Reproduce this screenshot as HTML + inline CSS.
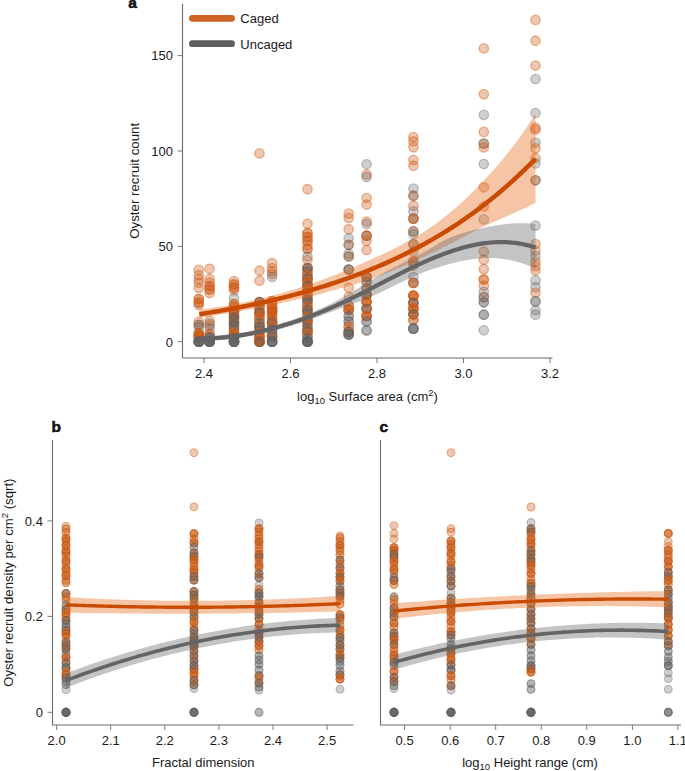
<!DOCTYPE html>
<html><head><meta charset="utf-8"><style>
html,body{margin:0;padding:0;background:#fff;}
body{width:685px;height:771px;overflow:hidden;font-family:"Liberation Sans",sans-serif;}
svg{display:block;} .p0{fill:rgba(205,92,22,0.340);stroke:rgba(205,92,22,0.442);stroke-width:1.3}.p1{fill:rgba(99,99,99,0.300);stroke:rgba(99,99,99,0.390);stroke-width:1.3}.p2{fill:rgba(205,92,22,0.340);stroke:rgba(205,92,22,0.442);stroke-width:1.1}.p3{fill:rgba(205,92,22,0.270);stroke:rgba(205,92,22,0.351);stroke-width:1.1}.p4{fill:rgba(99,99,99,0.270);stroke:rgba(99,99,99,0.351);stroke-width:1.1}.p5{fill:rgba(99,99,99,0.300);stroke:rgba(99,99,99,0.390);stroke-width:1.1} text{font-family:"Liberation Sans",sans-serif;fill:#1a1a1a;}
</style></head><body>
<svg width="685" height="771" viewBox="0 0 685 771">
<rect width="685" height="771" fill="#fff"/>
<circle class="p0" cx="198.8" cy="269.9" r="4.7"/>
<circle class="p0" cx="198.8" cy="275.2" r="4.7"/>
<circle class="p0" cx="198.8" cy="279.3" r="4.7"/>
<circle class="p0" cx="198.8" cy="282.8" r="4.7"/>
<circle class="p0" cx="198.8" cy="288.0" r="4.7"/>
<circle class="p0" cx="198.8" cy="299.0" r="4.7"/>
<circle class="p0" cx="198.8" cy="299.0" r="4.7"/>
<circle class="p0" cx="198.8" cy="302.6" r="4.7"/>
<circle class="p0" cx="198.8" cy="302.6" r="4.7"/>
<circle class="p0" cx="198.8" cy="305.0" r="4.7"/>
<circle class="p0" cx="198.8" cy="321.9" r="4.7"/>
<circle class="p0" cx="198.8" cy="324.8" r="4.7"/>
<circle class="p1" cx="198.8" cy="324.8" r="4.7"/>
<circle class="p1" cx="198.8" cy="327.2" r="4.7"/>
<circle class="p0" cx="198.8" cy="333.0" r="4.7"/>
<circle class="p0" cx="198.8" cy="333.0" r="4.7"/>
<circle class="p0" cx="198.8" cy="335.5" r="4.7"/>
<circle class="p0" cx="198.8" cy="335.5" r="4.7"/>
<circle class="p0" cx="198.8" cy="335.5" r="4.7"/>
<circle class="p0" cx="198.8" cy="335.5" r="4.7"/>
<circle class="p0" cx="198.8" cy="337.7" r="4.7"/>
<circle class="p0" cx="198.8" cy="337.7" r="4.7"/>
<circle class="p1" cx="198.8" cy="341.7" r="4.7"/>
<circle class="p1" cx="198.8" cy="341.7" r="4.7"/>
<circle class="p1" cx="198.8" cy="341.7" r="4.7"/>
<circle class="p1" cx="198.8" cy="341.7" r="4.7"/>
<circle class="p1" cx="198.8" cy="341.7" r="4.7"/>
<circle class="p1" cx="198.8" cy="341.7" r="4.7"/>
<circle class="p1" cx="198.8" cy="341.7" r="4.7"/>
<circle class="p1" cx="198.8" cy="341.7" r="4.7"/>
<circle class="p0" cx="209.6" cy="268.8" r="4.7"/>
<circle class="p0" cx="209.6" cy="279.0" r="4.7"/>
<circle class="p0" cx="209.6" cy="282.5" r="4.7"/>
<circle class="p0" cx="209.6" cy="286.0" r="4.7"/>
<circle class="p0" cx="209.6" cy="286.0" r="4.7"/>
<circle class="p0" cx="209.6" cy="289.5" r="4.7"/>
<circle class="p0" cx="209.6" cy="289.5" r="4.7"/>
<circle class="p0" cx="209.6" cy="293.0" r="4.7"/>
<circle class="p0" cx="209.6" cy="320.8" r="4.7"/>
<circle class="p1" cx="209.6" cy="323.7" r="4.7"/>
<circle class="p0" cx="209.6" cy="325.4" r="4.7"/>
<circle class="p1" cx="209.6" cy="328.4" r="4.7"/>
<circle class="p0" cx="209.6" cy="334.2" r="4.7"/>
<circle class="p0" cx="209.6" cy="334.2" r="4.7"/>
<circle class="p1" cx="209.6" cy="337.7" r="4.7"/>
<circle class="p1" cx="209.6" cy="337.7" r="4.7"/>
<circle class="p1" cx="209.6" cy="337.7" r="4.7"/>
<circle class="p1" cx="209.6" cy="337.7" r="4.7"/>
<circle class="p1" cx="209.6" cy="341.7" r="4.7"/>
<circle class="p1" cx="209.6" cy="341.7" r="4.7"/>
<circle class="p1" cx="209.6" cy="341.7" r="4.7"/>
<circle class="p1" cx="209.6" cy="341.7" r="4.7"/>
<circle class="p1" cx="209.6" cy="341.7" r="4.7"/>
<circle class="p1" cx="209.6" cy="341.7" r="4.7"/>
<circle class="p1" cx="209.6" cy="341.7" r="4.7"/>
<circle class="p1" cx="209.6" cy="341.7" r="4.7"/>
<circle class="p0" cx="234.0" cy="281.1" r="4.7"/>
<circle class="p0" cx="234.0" cy="284.4" r="4.7"/>
<circle class="p0" cx="234.0" cy="284.4" r="4.7"/>
<circle class="p0" cx="234.0" cy="287.6" r="4.7"/>
<circle class="p0" cx="234.0" cy="287.6" r="4.7"/>
<circle class="p0" cx="234.0" cy="290.2" r="4.7"/>
<circle class="p1" cx="234.0" cy="298.0" r="4.7"/>
<circle class="p0" cx="234.0" cy="304.0" r="4.7"/>
<circle class="p0" cx="234.0" cy="304.0" r="4.7"/>
<circle class="p0" cx="234.0" cy="307.0" r="4.7"/>
<circle class="p0" cx="234.0" cy="307.0" r="4.7"/>
<circle class="p0" cx="234.0" cy="311.0" r="4.7"/>
<circle class="p1" cx="234.0" cy="311.0" r="4.7"/>
<circle class="p0" cx="234.0" cy="311.0" r="4.7"/>
<circle class="p1" cx="234.0" cy="311.0" r="4.7"/>
<circle class="p0" cx="234.0" cy="314.0" r="4.7"/>
<circle class="p0" cx="234.0" cy="314.0" r="4.7"/>
<circle class="p0" cx="234.0" cy="317.0" r="4.7"/>
<circle class="p1" cx="234.0" cy="317.0" r="4.7"/>
<circle class="p0" cx="234.0" cy="317.0" r="4.7"/>
<circle class="p1" cx="234.0" cy="317.0" r="4.7"/>
<circle class="p1" cx="234.0" cy="320.0" r="4.7"/>
<circle class="p1" cx="234.0" cy="320.0" r="4.7"/>
<circle class="p0" cx="234.0" cy="323.0" r="4.7"/>
<circle class="p1" cx="234.0" cy="323.0" r="4.7"/>
<circle class="p0" cx="234.0" cy="323.0" r="4.7"/>
<circle class="p1" cx="234.0" cy="323.0" r="4.7"/>
<circle class="p1" cx="234.0" cy="326.0" r="4.7"/>
<circle class="p1" cx="234.0" cy="326.0" r="4.7"/>
<circle class="p1" cx="234.0" cy="329.0" r="4.7"/>
<circle class="p1" cx="234.0" cy="329.0" r="4.7"/>
<circle class="p0" cx="234.0" cy="332.0" r="4.7"/>
<circle class="p0" cx="234.0" cy="332.0" r="4.7"/>
<circle class="p0" cx="234.0" cy="335.0" r="4.7"/>
<circle class="p0" cx="234.0" cy="335.0" r="4.7"/>
<circle class="p0" cx="234.0" cy="335.0" r="4.7"/>
<circle class="p0" cx="234.0" cy="335.0" r="4.7"/>
<circle class="p0" cx="234.0" cy="338.0" r="4.7"/>
<circle class="p1" cx="234.0" cy="338.0" r="4.7"/>
<circle class="p0" cx="234.0" cy="338.0" r="4.7"/>
<circle class="p1" cx="234.0" cy="338.0" r="4.7"/>
<circle class="p1" cx="234.0" cy="341.7" r="4.7"/>
<circle class="p1" cx="234.0" cy="341.7" r="4.7"/>
<circle class="p1" cx="234.0" cy="341.7" r="4.7"/>
<circle class="p1" cx="234.0" cy="341.7" r="4.7"/>
<circle class="p1" cx="234.0" cy="341.7" r="4.7"/>
<circle class="p1" cx="234.0" cy="341.7" r="4.7"/>
<circle class="p1" cx="234.0" cy="341.7" r="4.7"/>
<circle class="p1" cx="234.0" cy="341.7" r="4.7"/>
<circle class="p0" cx="259.5" cy="153.4" r="4.7"/>
<circle class="p0" cx="259.5" cy="270.7" r="4.7"/>
<circle class="p0" cx="259.5" cy="280.7" r="4.7"/>
<circle class="p0" cx="259.5" cy="302.0" r="4.7"/>
<circle class="p1" cx="259.5" cy="302.0" r="4.7"/>
<circle class="p0" cx="259.5" cy="302.0" r="4.7"/>
<circle class="p1" cx="259.5" cy="302.0" r="4.7"/>
<circle class="p1" cx="259.5" cy="305.5" r="4.7"/>
<circle class="p1" cx="259.5" cy="305.5" r="4.7"/>
<circle class="p0" cx="259.5" cy="309.0" r="4.7"/>
<circle class="p0" cx="259.5" cy="309.0" r="4.7"/>
<circle class="p0" cx="259.5" cy="312.5" r="4.7"/>
<circle class="p1" cx="259.5" cy="312.5" r="4.7"/>
<circle class="p0" cx="259.5" cy="312.5" r="4.7"/>
<circle class="p1" cx="259.5" cy="312.5" r="4.7"/>
<circle class="p0" cx="259.5" cy="316.0" r="4.7"/>
<circle class="p0" cx="259.5" cy="316.0" r="4.7"/>
<circle class="p0" cx="259.5" cy="319.5" r="4.7"/>
<circle class="p0" cx="259.5" cy="319.5" r="4.7"/>
<circle class="p1" cx="259.5" cy="323.0" r="4.7"/>
<circle class="p1" cx="259.5" cy="323.0" r="4.7"/>
<circle class="p0" cx="259.5" cy="326.5" r="4.7"/>
<circle class="p1" cx="259.5" cy="326.5" r="4.7"/>
<circle class="p0" cx="259.5" cy="326.5" r="4.7"/>
<circle class="p1" cx="259.5" cy="326.5" r="4.7"/>
<circle class="p1" cx="259.5" cy="330.0" r="4.7"/>
<circle class="p1" cx="259.5" cy="330.0" r="4.7"/>
<circle class="p0" cx="259.5" cy="333.5" r="4.7"/>
<circle class="p0" cx="259.5" cy="333.5" r="4.7"/>
<circle class="p0" cx="259.5" cy="337.0" r="4.7"/>
<circle class="p0" cx="259.5" cy="337.0" r="4.7"/>
<circle class="p0" cx="259.5" cy="337.0" r="4.7"/>
<circle class="p0" cx="259.5" cy="337.0" r="4.7"/>
<circle class="p0" cx="259.5" cy="341.7" r="4.7"/>
<circle class="p0" cx="259.5" cy="341.7" r="4.7"/>
<circle class="p0" cx="259.5" cy="341.7" r="4.7"/>
<circle class="p0" cx="259.5" cy="341.7" r="4.7"/>
<circle class="p0" cx="259.5" cy="341.7" r="4.7"/>
<circle class="p1" cx="259.5" cy="341.7" r="4.7"/>
<circle class="p0" cx="259.5" cy="341.7" r="4.7"/>
<circle class="p1" cx="259.5" cy="341.7" r="4.7"/>
<circle class="p0" cx="272.1" cy="263.0" r="4.7"/>
<circle class="p0" cx="272.1" cy="268.1" r="4.7"/>
<circle class="p0" cx="272.1" cy="271.4" r="4.7"/>
<circle class="p0" cx="272.1" cy="274.0" r="4.7"/>
<circle class="p1" cx="272.1" cy="277.0" r="4.7"/>
<circle class="p0" cx="272.1" cy="301.0" r="4.7"/>
<circle class="p0" cx="272.1" cy="301.0" r="4.7"/>
<circle class="p0" cx="272.1" cy="304.5" r="4.7"/>
<circle class="p0" cx="272.1" cy="304.5" r="4.7"/>
<circle class="p0" cx="272.1" cy="308.5" r="4.7"/>
<circle class="p0" cx="272.1" cy="308.5" r="4.7"/>
<circle class="p0" cx="272.1" cy="308.5" r="4.7"/>
<circle class="p0" cx="272.1" cy="308.5" r="4.7"/>
<circle class="p0" cx="272.1" cy="312.0" r="4.7"/>
<circle class="p0" cx="272.1" cy="312.0" r="4.7"/>
<circle class="p0" cx="272.1" cy="312.0" r="4.7"/>
<circle class="p0" cx="272.1" cy="312.0" r="4.7"/>
<circle class="p0" cx="272.1" cy="315.5" r="4.7"/>
<circle class="p0" cx="272.1" cy="315.5" r="4.7"/>
<circle class="p0" cx="272.1" cy="319.0" r="4.7"/>
<circle class="p0" cx="272.1" cy="319.0" r="4.7"/>
<circle class="p0" cx="272.1" cy="322.5" r="4.7"/>
<circle class="p1" cx="272.1" cy="322.5" r="4.7"/>
<circle class="p0" cx="272.1" cy="322.5" r="4.7"/>
<circle class="p1" cx="272.1" cy="322.5" r="4.7"/>
<circle class="p0" cx="272.1" cy="326.0" r="4.7"/>
<circle class="p0" cx="272.1" cy="326.0" r="4.7"/>
<circle class="p1" cx="272.1" cy="329.5" r="4.7"/>
<circle class="p1" cx="272.1" cy="329.5" r="4.7"/>
<circle class="p1" cx="272.1" cy="333.0" r="4.7"/>
<circle class="p1" cx="272.1" cy="333.0" r="4.7"/>
<circle class="p0" cx="272.1" cy="336.5" r="4.7"/>
<circle class="p1" cx="272.1" cy="336.5" r="4.7"/>
<circle class="p0" cx="272.1" cy="336.5" r="4.7"/>
<circle class="p1" cx="272.1" cy="336.5" r="4.7"/>
<circle class="p1" cx="272.1" cy="341.7" r="4.7"/>
<circle class="p1" cx="272.1" cy="341.7" r="4.7"/>
<circle class="p1" cx="272.1" cy="341.7" r="4.7"/>
<circle class="p1" cx="272.1" cy="341.7" r="4.7"/>
<circle class="p1" cx="272.1" cy="341.7" r="4.7"/>
<circle class="p1" cx="272.1" cy="341.7" r="4.7"/>
<circle class="p0" cx="307.5" cy="189.2" r="4.7"/>
<circle class="p0" cx="307.5" cy="223.8" r="4.7"/>
<circle class="p0" cx="307.5" cy="233.0" r="4.7"/>
<circle class="p0" cx="307.5" cy="233.0" r="4.7"/>
<circle class="p0" cx="307.5" cy="237.0" r="4.7"/>
<circle class="p0" cx="307.5" cy="237.0" r="4.7"/>
<circle class="p0" cx="307.5" cy="241.0" r="4.7"/>
<circle class="p0" cx="307.5" cy="241.0" r="4.7"/>
<circle class="p0" cx="307.5" cy="245.0" r="4.7"/>
<circle class="p0" cx="307.5" cy="249.0" r="4.7"/>
<circle class="p0" cx="307.5" cy="249.0" r="4.7"/>
<circle class="p1" cx="307.5" cy="256.5" r="4.7"/>
<circle class="p0" cx="307.5" cy="260.0" r="4.7"/>
<circle class="p0" cx="307.5" cy="268.0" r="4.7"/>
<circle class="p1" cx="307.5" cy="268.0" r="4.7"/>
<circle class="p0" cx="307.5" cy="268.0" r="4.7"/>
<circle class="p1" cx="307.5" cy="268.0" r="4.7"/>
<circle class="p1" cx="307.5" cy="271.5" r="4.7"/>
<circle class="p1" cx="307.5" cy="271.5" r="4.7"/>
<circle class="p0" cx="307.5" cy="275.0" r="4.7"/>
<circle class="p0" cx="307.5" cy="275.0" r="4.7"/>
<circle class="p0" cx="307.5" cy="278.5" r="4.7"/>
<circle class="p1" cx="307.5" cy="278.5" r="4.7"/>
<circle class="p0" cx="307.5" cy="278.5" r="4.7"/>
<circle class="p1" cx="307.5" cy="278.5" r="4.7"/>
<circle class="p0" cx="307.5" cy="282.0" r="4.7"/>
<circle class="p0" cx="307.5" cy="282.0" r="4.7"/>
<circle class="p0" cx="307.5" cy="285.5" r="4.7"/>
<circle class="p1" cx="307.5" cy="285.5" r="4.7"/>
<circle class="p0" cx="307.5" cy="285.5" r="4.7"/>
<circle class="p1" cx="307.5" cy="285.5" r="4.7"/>
<circle class="p0" cx="307.5" cy="289.0" r="4.7"/>
<circle class="p0" cx="307.5" cy="289.0" r="4.7"/>
<circle class="p1" cx="307.5" cy="292.5" r="4.7"/>
<circle class="p1" cx="307.5" cy="292.5" r="4.7"/>
<circle class="p0" cx="307.5" cy="296.0" r="4.7"/>
<circle class="p0" cx="307.5" cy="296.0" r="4.7"/>
<circle class="p0" cx="307.5" cy="299.5" r="4.7"/>
<circle class="p1" cx="307.5" cy="299.5" r="4.7"/>
<circle class="p0" cx="307.5" cy="299.5" r="4.7"/>
<circle class="p1" cx="307.5" cy="299.5" r="4.7"/>
<circle class="p1" cx="307.5" cy="303.0" r="4.7"/>
<circle class="p1" cx="307.5" cy="303.0" r="4.7"/>
<circle class="p0" cx="307.5" cy="306.5" r="4.7"/>
<circle class="p0" cx="307.5" cy="306.5" r="4.7"/>
<circle class="p0" cx="307.5" cy="310.0" r="4.7"/>
<circle class="p1" cx="307.5" cy="310.0" r="4.7"/>
<circle class="p0" cx="307.5" cy="310.0" r="4.7"/>
<circle class="p1" cx="307.5" cy="310.0" r="4.7"/>
<circle class="p1" cx="307.5" cy="313.5" r="4.7"/>
<circle class="p1" cx="307.5" cy="313.5" r="4.7"/>
<circle class="p0" cx="307.5" cy="317.0" r="4.7"/>
<circle class="p0" cx="307.5" cy="317.0" r="4.7"/>
<circle class="p0" cx="307.5" cy="320.5" r="4.7"/>
<circle class="p1" cx="307.5" cy="320.5" r="4.7"/>
<circle class="p0" cx="307.5" cy="320.5" r="4.7"/>
<circle class="p1" cx="307.5" cy="320.5" r="4.7"/>
<circle class="p0" cx="307.5" cy="324.0" r="4.7"/>
<circle class="p0" cx="307.5" cy="324.0" r="4.7"/>
<circle class="p1" cx="307.5" cy="327.5" r="4.7"/>
<circle class="p1" cx="307.5" cy="327.5" r="4.7"/>
<circle class="p0" cx="307.5" cy="331.0" r="4.7"/>
<circle class="p1" cx="307.5" cy="331.0" r="4.7"/>
<circle class="p0" cx="307.5" cy="331.0" r="4.7"/>
<circle class="p1" cx="307.5" cy="331.0" r="4.7"/>
<circle class="p0" cx="307.5" cy="334.5" r="4.7"/>
<circle class="p0" cx="307.5" cy="334.5" r="4.7"/>
<circle class="p1" cx="307.5" cy="338.0" r="4.7"/>
<circle class="p1" cx="307.5" cy="338.0" r="4.7"/>
<circle class="p1" cx="307.5" cy="341.7" r="4.7"/>
<circle class="p1" cx="307.5" cy="341.7" r="4.7"/>
<circle class="p1" cx="307.5" cy="341.7" r="4.7"/>
<circle class="p1" cx="307.5" cy="341.7" r="4.7"/>
<circle class="p1" cx="307.5" cy="341.7" r="4.7"/>
<circle class="p1" cx="307.5" cy="341.7" r="4.7"/>
<circle class="p1" cx="307.5" cy="341.7" r="4.7"/>
<circle class="p1" cx="307.5" cy="341.7" r="4.7"/>
<circle class="p0" cx="348.7" cy="213.6" r="4.7"/>
<circle class="p0" cx="348.7" cy="218.0" r="4.7"/>
<circle class="p0" cx="348.7" cy="229.2" r="4.7"/>
<circle class="p1" cx="348.7" cy="238.3" r="4.7"/>
<circle class="p0" cx="348.7" cy="244.8" r="4.7"/>
<circle class="p1" cx="348.7" cy="244.8" r="4.7"/>
<circle class="p1" cx="348.7" cy="253.9" r="4.7"/>
<circle class="p0" cx="348.7" cy="256.5" r="4.7"/>
<circle class="p1" cx="348.7" cy="256.5" r="4.7"/>
<circle class="p0" cx="348.7" cy="269.5" r="4.7"/>
<circle class="p1" cx="348.7" cy="269.5" r="4.7"/>
<circle class="p1" cx="348.7" cy="269.5" r="4.7"/>
<circle class="p0" cx="348.7" cy="287.7" r="4.7"/>
<circle class="p0" cx="348.7" cy="296.8" r="4.7"/>
<circle class="p0" cx="348.7" cy="305.8" r="4.7"/>
<circle class="p0" cx="348.7" cy="305.8" r="4.7"/>
<circle class="p0" cx="348.7" cy="309.7" r="4.7"/>
<circle class="p0" cx="348.7" cy="309.7" r="4.7"/>
<circle class="p0" cx="348.7" cy="309.7" r="4.7"/>
<circle class="p0" cx="348.7" cy="309.7" r="4.7"/>
<circle class="p1" cx="348.7" cy="316.2" r="4.7"/>
<circle class="p1" cx="348.7" cy="316.2" r="4.7"/>
<circle class="p1" cx="348.7" cy="321.4" r="4.7"/>
<circle class="p1" cx="348.7" cy="321.4" r="4.7"/>
<circle class="p0" cx="348.7" cy="326.6" r="4.7"/>
<circle class="p0" cx="348.7" cy="326.6" r="4.7"/>
<circle class="p0" cx="348.7" cy="331.8" r="4.7"/>
<circle class="p1" cx="348.7" cy="331.8" r="4.7"/>
<circle class="p0" cx="348.7" cy="331.8" r="4.7"/>
<circle class="p1" cx="348.7" cy="331.8" r="4.7"/>
<circle class="p1" cx="348.7" cy="334.4" r="4.7"/>
<circle class="p1" cx="348.7" cy="334.4" r="4.7"/>
<circle class="p1" cx="348.7" cy="334.4" r="4.7"/>
<circle class="p1" cx="348.7" cy="334.4" r="4.7"/>
<circle class="p1" cx="366.6" cy="164.3" r="4.7"/>
<circle class="p0" cx="366.6" cy="174.5" r="4.7"/>
<circle class="p1" cx="366.6" cy="177.0" r="4.7"/>
<circle class="p0" cx="366.6" cy="198.0" r="4.7"/>
<circle class="p0" cx="366.6" cy="204.5" r="4.7"/>
<circle class="p0" cx="366.6" cy="221.5" r="4.7"/>
<circle class="p1" cx="366.6" cy="224.0" r="4.7"/>
<circle class="p0" cx="366.6" cy="235.7" r="4.7"/>
<circle class="p1" cx="366.6" cy="235.7" r="4.7"/>
<circle class="p0" cx="366.6" cy="235.7" r="4.7"/>
<circle class="p0" cx="366.6" cy="240.9" r="4.7"/>
<circle class="p0" cx="366.6" cy="250.0" r="4.7"/>
<circle class="p0" cx="366.6" cy="277.0" r="4.7"/>
<circle class="p1" cx="366.6" cy="277.0" r="4.7"/>
<circle class="p0" cx="366.6" cy="277.0" r="4.7"/>
<circle class="p1" cx="366.6" cy="277.0" r="4.7"/>
<circle class="p1" cx="366.6" cy="282.0" r="4.7"/>
<circle class="p1" cx="366.6" cy="282.0" r="4.7"/>
<circle class="p0" cx="366.6" cy="288.0" r="4.7"/>
<circle class="p0" cx="366.6" cy="288.0" r="4.7"/>
<circle class="p0" cx="366.6" cy="295.0" r="4.7"/>
<circle class="p1" cx="366.6" cy="295.0" r="4.7"/>
<circle class="p0" cx="366.6" cy="295.0" r="4.7"/>
<circle class="p1" cx="366.6" cy="295.0" r="4.7"/>
<circle class="p0" cx="366.6" cy="302.0" r="4.7"/>
<circle class="p0" cx="366.6" cy="302.0" r="4.7"/>
<circle class="p0" cx="366.6" cy="302.0" r="4.7"/>
<circle class="p0" cx="366.6" cy="302.0" r="4.7"/>
<circle class="p0" cx="366.6" cy="309.0" r="4.7"/>
<circle class="p1" cx="366.6" cy="309.0" r="4.7"/>
<circle class="p0" cx="366.6" cy="309.0" r="4.7"/>
<circle class="p1" cx="366.6" cy="309.0" r="4.7"/>
<circle class="p0" cx="366.6" cy="316.0" r="4.7"/>
<circle class="p0" cx="366.6" cy="316.0" r="4.7"/>
<circle class="p0" cx="366.6" cy="316.0" r="4.7"/>
<circle class="p0" cx="366.6" cy="316.0" r="4.7"/>
<circle class="p1" cx="366.6" cy="321.4" r="4.7"/>
<circle class="p1" cx="366.6" cy="321.4" r="4.7"/>
<circle class="p1" cx="366.6" cy="330.5" r="4.7"/>
<circle class="p1" cx="366.6" cy="330.5" r="4.7"/>
<circle class="p0" cx="413.4" cy="137.1" r="4.7"/>
<circle class="p0" cx="413.4" cy="141.4" r="4.7"/>
<circle class="p0" cx="413.4" cy="147.1" r="4.7"/>
<circle class="p0" cx="413.4" cy="160.0" r="4.7"/>
<circle class="p0" cx="413.4" cy="165.7" r="4.7"/>
<circle class="p1" cx="413.4" cy="188.6" r="4.7"/>
<circle class="p0" cx="413.4" cy="195.7" r="4.7"/>
<circle class="p1" cx="413.4" cy="195.7" r="4.7"/>
<circle class="p0" cx="413.4" cy="205.7" r="4.7"/>
<circle class="p1" cx="413.4" cy="211.4" r="4.7"/>
<circle class="p0" cx="413.4" cy="218.6" r="4.7"/>
<circle class="p1" cx="413.4" cy="218.6" r="4.7"/>
<circle class="p0" cx="413.4" cy="218.6" r="4.7"/>
<circle class="p0" cx="413.4" cy="231.4" r="4.7"/>
<circle class="p1" cx="413.4" cy="231.4" r="4.7"/>
<circle class="p1" cx="413.4" cy="234.3" r="4.7"/>
<circle class="p0" cx="413.4" cy="244.3" r="4.7"/>
<circle class="p1" cx="413.4" cy="244.3" r="4.7"/>
<circle class="p1" cx="413.4" cy="251.4" r="4.7"/>
<circle class="p0" cx="413.4" cy="261.4" r="4.7"/>
<circle class="p0" cx="413.4" cy="261.4" r="4.7"/>
<circle class="p0" cx="413.4" cy="265.7" r="4.7"/>
<circle class="p1" cx="413.4" cy="277.1" r="4.7"/>
<circle class="p0" cx="413.4" cy="282.9" r="4.7"/>
<circle class="p1" cx="413.4" cy="282.9" r="4.7"/>
<circle class="p0" cx="413.4" cy="282.9" r="4.7"/>
<circle class="p0" cx="413.4" cy="295.7" r="4.7"/>
<circle class="p0" cx="413.4" cy="295.7" r="4.7"/>
<circle class="p0" cx="413.4" cy="295.7" r="4.7"/>
<circle class="p0" cx="413.4" cy="295.7" r="4.7"/>
<circle class="p0" cx="413.4" cy="302.9" r="4.7"/>
<circle class="p1" cx="413.4" cy="302.9" r="4.7"/>
<circle class="p0" cx="413.4" cy="302.9" r="4.7"/>
<circle class="p1" cx="413.4" cy="302.9" r="4.7"/>
<circle class="p0" cx="413.4" cy="308.6" r="4.7"/>
<circle class="p0" cx="413.4" cy="308.6" r="4.7"/>
<circle class="p0" cx="413.4" cy="308.6" r="4.7"/>
<circle class="p0" cx="413.4" cy="308.6" r="4.7"/>
<circle class="p0" cx="413.4" cy="314.3" r="4.7"/>
<circle class="p1" cx="413.4" cy="314.3" r="4.7"/>
<circle class="p0" cx="413.4" cy="314.3" r="4.7"/>
<circle class="p1" cx="413.4" cy="314.3" r="4.7"/>
<circle class="p0" cx="413.4" cy="320.0" r="4.7"/>
<circle class="p0" cx="413.4" cy="320.0" r="4.7"/>
<circle class="p1" cx="413.4" cy="328.6" r="4.7"/>
<circle class="p1" cx="413.4" cy="328.6" r="4.7"/>
<circle class="p1" cx="413.4" cy="328.6" r="4.7"/>
<circle class="p1" cx="413.4" cy="328.6" r="4.7"/>
<circle class="p0" cx="483.8" cy="48.4" r="4.7"/>
<circle class="p0" cx="483.8" cy="94.1" r="4.7"/>
<circle class="p1" cx="483.8" cy="114.9" r="4.7"/>
<circle class="p0" cx="483.8" cy="131.9" r="4.7"/>
<circle class="p0" cx="483.8" cy="143.6" r="4.7"/>
<circle class="p1" cx="483.8" cy="143.6" r="4.7"/>
<circle class="p0" cx="483.8" cy="147.5" r="4.7"/>
<circle class="p1" cx="483.8" cy="164.0" r="4.7"/>
<circle class="p0" cx="483.8" cy="187.3" r="4.7"/>
<circle class="p0" cx="483.8" cy="206.5" r="4.7"/>
<circle class="p1" cx="483.8" cy="219.4" r="4.7"/>
<circle class="p0" cx="483.8" cy="251.5" r="4.7"/>
<circle class="p0" cx="483.8" cy="259.8" r="4.7"/>
<circle class="p0" cx="483.8" cy="269.1" r="4.7"/>
<circle class="p0" cx="483.8" cy="279.5" r="4.7"/>
<circle class="p0" cx="483.8" cy="279.5" r="4.7"/>
<circle class="p0" cx="483.8" cy="285.7" r="4.7"/>
<circle class="p1" cx="483.8" cy="291.9" r="4.7"/>
<circle class="p0" cx="483.8" cy="297.1" r="4.7"/>
<circle class="p1" cx="483.8" cy="297.1" r="4.7"/>
<circle class="p1" cx="483.8" cy="302.3" r="4.7"/>
<circle class="p1" cx="483.8" cy="302.3" r="4.7"/>
<circle class="p1" cx="483.8" cy="314.7" r="4.7"/>
<circle class="p1" cx="483.8" cy="314.7" r="4.7"/>
<circle class="p1" cx="483.8" cy="330.3" r="4.7"/>
<circle class="p0" cx="535.5" cy="19.9" r="4.7"/>
<circle class="p0" cx="535.5" cy="40.7" r="4.7"/>
<circle class="p0" cx="535.5" cy="65.5" r="4.7"/>
<circle class="p1" cx="535.5" cy="79.0" r="4.7"/>
<circle class="p1" cx="535.5" cy="113.0" r="4.7"/>
<circle class="p0" cx="535.5" cy="127.7" r="4.7"/>
<circle class="p0" cx="535.5" cy="129.8" r="4.7"/>
<circle class="p1" cx="535.5" cy="142.6" r="4.7"/>
<circle class="p0" cx="535.5" cy="148.4" r="4.7"/>
<circle class="p0" cx="535.5" cy="158.2" r="4.7"/>
<circle class="p1" cx="535.5" cy="163.4" r="4.7"/>
<circle class="p0" cx="535.5" cy="180.3" r="4.7"/>
<circle class="p1" cx="535.5" cy="180.3" r="4.7"/>
<circle class="p1" cx="535.5" cy="225.6" r="4.7"/>
<circle class="p0" cx="535.5" cy="244.0" r="4.7"/>
<circle class="p0" cx="535.5" cy="250.6" r="4.7"/>
<circle class="p1" cx="535.5" cy="256.1" r="4.7"/>
<circle class="p0" cx="535.5" cy="261.7" r="4.7"/>
<circle class="p0" cx="535.5" cy="266.1" r="4.7"/>
<circle class="p0" cx="535.5" cy="270.5" r="4.7"/>
<circle class="p1" cx="535.5" cy="280.4" r="4.7"/>
<circle class="p1" cx="535.5" cy="287.1" r="4.7"/>
<circle class="p0" cx="535.5" cy="292.6" r="4.7"/>
<circle class="p1" cx="535.5" cy="301.4" r="4.7"/>
<circle class="p1" cx="535.5" cy="301.4" r="4.7"/>
<circle class="p1" cx="535.5" cy="310.3" r="4.7"/>
<circle class="p1" cx="535.5" cy="314.7" r="4.7"/>
<path d="M199.30,309.74 L200.99,309.52 L202.68,309.30 L204.37,309.08 L206.06,308.84 L207.75,308.61 L209.44,308.36 L211.13,308.12 L212.82,307.87 L214.51,307.61 L216.19,307.35 L217.88,307.08 L219.57,306.81 L221.26,306.53 L222.95,306.25 L224.64,305.96 L226.33,305.67 L228.02,305.38 L229.71,305.08 L231.40,304.77 L233.09,304.46 L234.78,304.15 L236.47,303.83 L238.16,303.51 L239.85,303.18 L241.54,302.85 L243.23,302.51 L244.92,302.16 L246.60,301.81 L248.29,301.45 L249.98,301.08 L251.67,300.71 L253.36,300.32 L255.05,299.94 L256.74,299.54 L258.43,299.14 L260.12,298.74 L261.81,298.32 L263.50,297.90 L265.19,297.48 L266.88,297.05 L268.57,296.61 L270.26,296.17 L271.95,295.72 L273.64,295.27 L275.33,294.81 L277.01,294.34 L278.70,293.87 L280.39,293.40 L282.08,292.92 L283.77,292.43 L285.46,291.94 L287.15,291.45 L288.84,290.95 L290.53,290.44 L292.22,289.93 L293.91,289.42 L295.60,288.90 L297.29,288.38 L298.98,287.85 L300.67,287.32 L302.36,286.78 L304.05,286.22 L305.74,285.65 L307.42,285.06 L309.11,284.47 L310.80,283.88 L312.49,283.28 L314.18,282.69 L315.87,282.09 L317.56,281.48 L319.25,280.87 L320.94,280.26 L322.63,279.64 L324.32,279.01 L326.01,278.38 L327.70,277.75 L329.39,277.11 L331.08,276.46 L332.77,275.81 L334.46,275.15 L336.15,274.49 L337.83,273.83 L339.52,273.15 L341.21,272.48 L342.90,271.79 L344.59,271.10 L346.28,270.40 L347.97,269.70 L349.66,268.99 L351.35,268.27 L353.04,267.55 L354.73,266.82 L356.42,266.09 L358.11,265.35 L359.80,264.60 L361.49,263.85 L363.18,263.10 L364.87,262.34 L366.56,261.58 L368.24,260.81 L369.93,260.04 L371.62,259.27 L373.31,258.49 L375.00,257.70 L376.69,256.92 L378.38,256.13 L380.07,255.34 L381.76,254.54 L383.45,253.74 L385.14,252.93 L386.83,252.12 L388.52,251.30 L390.21,250.47 L391.90,249.63 L393.59,248.79 L395.28,247.94 L396.97,247.07 L398.65,246.20 L400.34,245.32 L402.03,244.43 L403.72,243.53 L405.41,242.62 L407.10,241.71 L408.79,240.78 L410.48,239.85 L412.17,238.90 L413.86,237.94 L415.55,236.97 L417.24,235.98 L418.93,234.97 L420.62,233.94 L422.31,232.89 L424.00,231.82 L425.69,230.72 L427.38,229.60 L429.06,228.46 L430.75,227.30 L432.44,226.11 L434.13,224.91 L435.82,223.68 L437.51,222.44 L439.20,221.18 L440.89,219.90 L442.58,218.60 L444.27,217.29 L445.96,215.96 L447.65,214.62 L449.34,213.27 L451.03,211.89 L452.72,210.49 L454.41,209.06 L456.10,207.61 L457.79,206.12 L459.47,204.62 L461.16,203.08 L462.85,201.53 L464.54,199.95 L466.23,198.34 L467.92,196.72 L469.61,195.08 L471.30,193.41 L472.99,191.73 L474.68,190.02 L476.37,188.31 L478.06,186.57 L479.75,184.82 L481.44,183.05 L483.13,181.27 L484.82,179.47 L486.51,177.66 L488.20,175.84 L489.88,173.99 L491.57,172.12 L493.26,170.24 L494.95,168.33 L496.64,166.40 L498.33,164.45 L500.02,162.48 L501.71,160.48 L503.40,158.45 L505.09,156.40 L506.78,154.32 L508.47,152.22 L510.16,150.08 L511.85,147.92 L513.54,145.72 L515.23,143.50 L516.92,141.24 L518.61,138.94 L520.29,136.62 L521.98,134.23 L523.67,131.77 L525.36,129.26 L527.05,126.69 L528.74,124.07 L530.43,121.40 L532.12,118.70 L533.81,115.96 L535.50,113.20 L535.50,203.00 L533.81,203.84 L532.12,204.66 L530.43,205.48 L528.74,206.30 L527.05,207.10 L525.36,207.91 L523.67,208.70 L521.98,209.50 L520.29,210.29 L518.61,211.07 L516.92,211.84 L515.23,212.60 L513.54,213.36 L511.85,214.10 L510.16,214.84 L508.47,215.58 L506.78,216.32 L505.09,217.06 L503.40,217.80 L501.71,218.55 L500.02,219.31 L498.33,220.06 L496.64,220.79 L494.95,221.51 L493.26,222.23 L491.57,222.95 L489.88,223.67 L488.20,224.41 L486.51,225.17 L484.82,225.95 L483.13,226.76 L481.44,227.61 L479.75,228.50 L478.06,229.38 L476.37,230.27 L474.68,231.17 L472.99,232.06 L471.30,232.96 L469.61,233.85 L467.92,234.75 L466.23,235.65 L464.54,236.55 L462.85,237.44 L461.16,238.33 L459.47,239.22 L457.79,240.11 L456.10,240.99 L454.41,241.87 L452.72,242.74 L451.03,243.61 L449.34,244.47 L447.65,245.32 L445.96,246.17 L444.27,247.02 L442.58,247.85 L440.89,248.69 L439.20,249.52 L437.51,250.34 L435.82,251.16 L434.13,251.98 L432.44,252.79 L430.75,253.59 L429.06,254.39 L427.38,255.19 L425.69,255.98 L424.00,256.77 L422.31,257.56 L420.62,258.34 L418.93,259.11 L417.24,259.88 L415.55,260.65 L413.86,261.41 L412.17,262.17 L410.48,262.92 L408.79,263.67 L407.10,264.41 L405.41,265.15 L403.72,265.89 L402.03,266.62 L400.34,267.35 L398.65,268.08 L396.97,268.80 L395.28,269.53 L393.59,270.25 L391.90,270.96 L390.21,271.67 L388.52,272.38 L386.83,273.08 L385.14,273.77 L383.45,274.45 L381.76,275.12 L380.07,275.79 L378.38,276.44 L376.69,277.08 L375.00,277.70 L373.31,278.32 L371.62,278.91 L369.93,279.49 L368.24,280.06 L366.56,280.61 L364.87,281.15 L363.18,281.69 L361.49,282.21 L359.80,282.72 L358.11,283.23 L356.42,283.73 L354.73,284.22 L353.04,284.71 L351.35,285.20 L349.66,285.68 L347.97,286.16 L346.28,286.65 L344.59,287.13 L342.90,287.62 L341.21,288.11 L339.52,288.60 L337.83,289.10 L336.15,289.60 L334.46,290.09 L332.77,290.59 L331.08,291.08 L329.39,291.57 L327.70,292.05 L326.01,292.53 L324.32,293.01 L322.63,293.48 L320.94,293.94 L319.25,294.39 L317.56,294.84 L315.87,295.28 L314.18,295.70 L312.49,296.12 L310.80,296.52 L309.11,296.90 L307.42,297.28 L305.74,297.65 L304.05,298.02 L302.36,298.40 L300.67,298.78 L298.98,299.17 L297.29,299.56 L295.60,299.95 L293.91,300.33 L292.22,300.71 L290.53,301.09 L288.84,301.46 L287.15,301.84 L285.46,302.20 L283.77,302.57 L282.08,302.93 L280.39,303.29 L278.70,303.65 L277.01,304.01 L275.33,304.36 L273.64,304.71 L271.95,305.05 L270.26,305.40 L268.57,305.74 L266.88,306.08 L265.19,306.41 L263.50,306.75 L261.81,307.08 L260.12,307.41 L258.43,307.74 L256.74,308.06 L255.05,308.38 L253.36,308.70 L251.67,309.02 L249.98,309.33 L248.29,309.65 L246.60,309.96 L244.92,310.27 L243.23,310.57 L241.54,310.88 L239.85,311.18 L238.16,311.48 L236.47,311.77 L234.78,312.07 L233.09,312.36 L231.40,312.65 L229.71,312.94 L228.02,313.22 L226.33,313.50 L224.64,313.78 L222.95,314.06 L221.26,314.33 L219.57,314.61 L217.88,314.88 L216.19,315.14 L214.51,315.41 L212.82,315.68 L211.13,315.94 L209.44,316.20 L207.75,316.46 L206.06,316.72 L204.37,316.98 L202.68,317.23 L200.99,317.49 L199.30,317.74 Z" fill="rgba(230,110,30,0.400)"/><path d="M199.30,314.24 L200.99,313.98 L202.68,313.71 L204.37,313.44 L206.06,313.17 L207.75,312.90 L209.44,312.62 L211.13,312.34 L212.82,312.06 L214.51,311.78 L216.19,311.49 L217.88,311.20 L219.57,310.91 L221.26,310.62 L222.95,310.32 L224.64,310.02 L226.33,309.72 L228.02,309.41 L229.71,309.10 L231.40,308.79 L233.09,308.47 L234.78,308.15 L236.47,307.83 L238.16,307.51 L239.85,307.18 L241.54,306.85 L243.23,306.52 L244.92,306.18 L246.60,305.84 L248.29,305.50 L249.98,305.15 L251.67,304.80 L253.36,304.45 L255.05,304.09 L256.74,303.73 L258.43,303.37 L260.12,303.00 L261.81,302.63 L263.50,302.25 L265.19,301.88 L266.88,301.49 L268.57,301.11 L270.26,300.72 L271.95,300.33 L273.64,299.93 L275.33,299.53 L277.01,299.13 L278.70,298.72 L280.39,298.31 L282.08,297.89 L283.77,297.47 L285.46,297.05 L287.15,296.62 L288.84,296.19 L290.53,295.75 L292.22,295.31 L293.91,294.87 L295.60,294.42 L297.29,293.97 L298.98,293.51 L300.67,293.05 L302.36,292.59 L304.05,292.11 L305.74,291.64 L307.42,291.16 L309.11,290.68 L310.80,290.19 L312.49,289.69 L314.18,289.20 L315.87,288.69 L317.56,288.19 L319.25,287.67 L320.94,287.16 L322.63,286.63 L324.32,286.11 L326.01,285.57 L327.70,285.04 L329.39,284.49 L331.08,283.95 L332.77,283.39 L334.46,282.83 L336.15,282.27 L337.83,281.70 L339.52,281.13 L341.21,280.55 L342.90,279.96 L344.59,279.37 L346.28,278.77 L347.97,278.17 L349.66,277.56 L351.35,276.95 L353.04,276.33 L354.73,275.70 L356.42,275.07 L358.11,274.43 L359.80,273.79 L361.49,273.14 L363.18,272.48 L364.87,271.82 L366.56,271.15 L368.24,270.47 L369.93,269.79 L371.62,269.10 L373.31,268.41 L375.00,267.70 L376.69,267.00 L378.38,266.28 L380.07,265.56 L381.76,264.83 L383.45,264.09 L385.14,263.35 L386.83,262.60 L388.52,261.84 L390.21,261.08 L391.90,260.30 L393.59,259.53 L395.28,258.74 L396.97,257.94 L398.65,257.14 L400.34,256.33 L402.03,255.51 L403.72,254.69 L405.41,253.86 L407.10,253.01 L408.79,252.16 L410.48,251.31 L412.17,250.44 L413.86,249.57 L415.55,248.69 L417.24,247.79 L418.93,246.90 L420.62,245.99 L422.31,245.07 L424.00,244.15 L425.69,243.21 L427.38,242.27 L429.06,241.32 L430.75,240.35 L432.44,239.38 L434.13,238.40 L435.82,237.41 L437.51,236.42 L439.20,235.41 L440.89,234.39 L442.58,233.36 L444.27,232.32 L445.96,231.28 L447.65,230.22 L449.34,229.15 L451.03,228.07 L452.72,226.99 L454.41,225.89 L456.10,224.78 L457.79,223.66 L459.47,222.53 L461.16,221.39 L462.85,220.23 L464.54,219.07 L466.23,217.90 L467.92,216.71 L469.61,215.51 L471.30,214.31 L472.99,213.09 L474.68,211.85 L476.37,210.61 L478.06,209.36 L479.75,208.09 L481.44,206.81 L483.13,205.52 L484.82,204.21 L486.51,202.90 L488.20,201.57 L489.88,200.22 L491.57,198.87 L493.26,197.50 L494.95,196.12 L496.64,194.73 L498.33,193.32 L500.02,191.90 L501.71,190.46 L503.40,189.01 L505.09,187.55 L506.78,186.08 L508.47,184.59 L510.16,183.08 L511.85,181.56 L513.54,180.03 L515.23,178.48 L516.92,176.92 L518.61,175.34 L520.29,173.75 L521.98,172.14 L523.67,170.51 L525.36,168.87 L527.05,167.22 L528.74,165.55 L530.43,163.86 L532.12,162.16 L533.81,160.44 L535.50,158.70" fill="none" stroke="none"/>
<path d="M199.30,314.24 L200.99,313.98 L202.68,313.71 L204.37,313.44 L206.06,313.17 L207.75,312.90 L209.44,312.62 L211.13,312.34 L212.82,312.06 L214.51,311.78 L216.19,311.49 L217.88,311.20 L219.57,310.91 L221.26,310.62 L222.95,310.32 L224.64,310.02 L226.33,309.72 L228.02,309.41 L229.71,309.10 L231.40,308.79 L233.09,308.47 L234.78,308.15 L236.47,307.83 L238.16,307.51 L239.85,307.18 L241.54,306.85 L243.23,306.52 L244.92,306.18 L246.60,305.84 L248.29,305.50 L249.98,305.15 L251.67,304.80 L253.36,304.45 L255.05,304.09 L256.74,303.73 L258.43,303.37 L260.12,303.00 L261.81,302.63 L263.50,302.25 L265.19,301.88 L266.88,301.49 L268.57,301.11 L270.26,300.72 L271.95,300.33 L273.64,299.93 L275.33,299.53 L277.01,299.13 L278.70,298.72 L280.39,298.31 L282.08,297.89 L283.77,297.47 L285.46,297.05 L287.15,296.62 L288.84,296.19 L290.53,295.75 L292.22,295.31 L293.91,294.87 L295.60,294.42 L297.29,293.97 L298.98,293.51 L300.67,293.05 L302.36,292.59 L304.05,292.11 L305.74,291.64 L307.42,291.16 L309.11,290.68 L310.80,290.19 L312.49,289.69 L314.18,289.20 L315.87,288.69 L317.56,288.19 L319.25,287.67 L320.94,287.16 L322.63,286.63 L324.32,286.11 L326.01,285.57 L327.70,285.04 L329.39,284.49 L331.08,283.95 L332.77,283.39 L334.46,282.83 L336.15,282.27 L337.83,281.70 L339.52,281.13 L341.21,280.55 L342.90,279.96 L344.59,279.37 L346.28,278.77 L347.97,278.17 L349.66,277.56 L351.35,276.95 L353.04,276.33 L354.73,275.70 L356.42,275.07 L358.11,274.43 L359.80,273.79 L361.49,273.14 L363.18,272.48 L364.87,271.82 L366.56,271.15 L368.24,270.47 L369.93,269.79 L371.62,269.10 L373.31,268.41 L375.00,267.70 L376.69,267.00 L378.38,266.28 L380.07,265.56 L381.76,264.83 L383.45,264.09 L385.14,263.35 L386.83,262.60 L388.52,261.84 L390.21,261.08 L391.90,260.30 L393.59,259.53 L395.28,258.74 L396.97,257.94 L398.65,257.14 L400.34,256.33 L402.03,255.51 L403.72,254.69 L405.41,253.86 L407.10,253.01 L408.79,252.16 L410.48,251.31 L412.17,250.44 L413.86,249.57 L415.55,248.69 L417.24,247.79 L418.93,246.90 L420.62,245.99 L422.31,245.07 L424.00,244.15 L425.69,243.21 L427.38,242.27 L429.06,241.32 L430.75,240.35 L432.44,239.38 L434.13,238.40 L435.82,237.41 L437.51,236.42 L439.20,235.41 L440.89,234.39 L442.58,233.36 L444.27,232.32 L445.96,231.28 L447.65,230.22 L449.34,229.15 L451.03,228.07 L452.72,226.99 L454.41,225.89 L456.10,224.78 L457.79,223.66 L459.47,222.53 L461.16,221.39 L462.85,220.23 L464.54,219.07 L466.23,217.90 L467.92,216.71 L469.61,215.51 L471.30,214.31 L472.99,213.09 L474.68,211.85 L476.37,210.61 L478.06,209.36 L479.75,208.09 L481.44,206.81 L483.13,205.52 L484.82,204.21 L486.51,202.90 L488.20,201.57 L489.88,200.22 L491.57,198.87 L493.26,197.50 L494.95,196.12 L496.64,194.73 L498.33,193.32 L500.02,191.90 L501.71,190.46 L503.40,189.01 L505.09,187.55 L506.78,186.08 L508.47,184.59 L510.16,183.08 L511.85,181.56 L513.54,180.03 L515.23,178.48 L516.92,176.92 L518.61,175.34 L520.29,173.75 L521.98,172.14 L523.67,170.51 L525.36,168.87 L527.05,167.22 L528.74,165.55 L530.43,163.86 L532.12,162.16 L533.81,160.44 L535.50,158.70" fill="none" stroke="#c94c02" stroke-width="4.5"/><path d="M199.30,336.04 L200.99,336.04 L202.68,336.02 L204.37,336.00 L206.06,335.96 L207.75,335.91 L209.44,335.85 L211.13,335.78 L212.82,335.69 L214.51,335.60 L216.19,335.49 L217.88,335.38 L219.57,335.25 L221.26,335.11 L222.95,334.96 L224.64,334.80 L226.33,334.63 L228.02,334.45 L229.71,334.26 L231.40,334.06 L233.09,333.85 L234.78,333.62 L236.47,333.39 L238.16,333.15 L239.85,332.89 L241.54,332.63 L243.23,332.35 L244.92,332.07 L246.60,331.78 L248.29,331.47 L249.98,331.16 L251.67,330.83 L253.36,330.49 L255.05,330.14 L256.74,329.79 L258.43,329.41 L260.12,329.03 L261.81,328.64 L263.50,328.24 L265.19,327.82 L266.88,327.40 L268.57,326.96 L270.26,326.52 L271.95,326.06 L273.64,325.59 L275.33,325.12 L277.01,324.63 L278.70,324.13 L280.39,323.63 L282.08,323.11 L283.77,322.58 L285.46,322.05 L287.15,321.50 L288.84,320.95 L290.53,320.38 L292.22,319.81 L293.91,319.23 L295.60,318.64 L297.29,318.04 L298.98,317.43 L300.67,316.81 L302.36,316.18 L304.05,315.54 L305.74,314.89 L307.42,314.22 L309.11,313.55 L310.80,312.86 L312.49,312.16 L314.18,311.45 L315.87,310.73 L317.56,310.00 L319.25,309.26 L320.94,308.50 L322.63,307.74 L324.32,306.96 L326.01,306.17 L327.70,305.37 L329.39,304.56 L331.08,303.73 L332.77,302.88 L334.46,301.99 L336.15,301.08 L337.83,300.15 L339.52,299.20 L341.21,298.24 L342.90,297.27 L344.59,296.30 L346.28,295.33 L347.97,294.35 L349.66,293.35 L351.35,292.35 L353.04,291.33 L354.73,290.31 L356.42,289.29 L358.11,288.27 L359.80,287.25 L361.49,286.23 L363.18,285.20 L364.87,284.16 L366.56,283.12 L368.24,282.08 L369.93,281.04 L371.62,280.00 L373.31,278.98 L375.00,277.97 L376.69,276.97 L378.38,276.00 L380.07,275.05 L381.76,274.11 L383.45,273.18 L385.14,272.26 L386.83,271.35 L388.52,270.44 L390.21,269.53 L391.90,268.63 L393.59,267.74 L395.28,266.85 L396.97,265.97 L398.65,265.09 L400.34,264.21 L402.03,263.34 L403.72,262.47 L405.41,261.61 L407.10,260.75 L408.79,259.89 L410.48,259.03 L412.17,258.17 L413.86,257.32 L415.55,256.47 L417.24,255.62 L418.93,254.77 L420.62,253.92 L422.31,253.04 L424.00,252.12 L425.69,251.16 L427.38,250.19 L429.06,249.19 L430.75,248.18 L432.44,247.16 L434.13,246.15 L435.82,245.13 L437.51,244.13 L439.20,243.15 L440.89,242.19 L442.58,241.26 L444.27,240.37 L445.96,239.52 L447.65,238.72 L449.34,237.97 L451.03,237.27 L452.72,236.61 L454.41,235.97 L456.10,235.35 L457.79,234.76 L459.47,234.19 L461.16,233.64 L462.85,233.11 L464.54,232.59 L466.23,232.10 L467.92,231.62 L469.61,231.16 L471.30,230.71 L472.99,230.28 L474.68,229.85 L476.37,229.44 L478.06,229.04 L479.75,228.65 L481.44,228.27 L483.13,227.89 L484.82,227.53 L486.51,227.18 L488.20,226.84 L489.88,226.51 L491.57,226.20 L493.26,225.89 L494.95,225.60 L496.64,225.33 L498.33,225.07 L500.02,224.82 L501.71,224.59 L503.40,224.38 L505.09,224.18 L506.78,224.00 L508.47,223.83 L510.16,223.69 L511.85,223.56 L513.54,223.45 L515.23,223.36 L516.92,223.29 L518.61,223.24 L520.29,223.21 L521.98,223.21 L523.67,223.22 L525.36,223.26 L527.05,223.32 L528.74,223.40 L530.43,223.51 L532.12,223.64 L533.81,223.80 L535.50,223.98 L535.50,268.68 L533.81,267.89 L532.12,267.12 L530.43,266.40 L528.74,265.70 L527.05,265.04 L525.36,264.41 L523.67,263.82 L521.98,263.25 L520.29,262.72 L518.61,262.21 L516.92,261.74 L515.23,261.30 L513.54,260.88 L511.85,260.50 L510.16,260.15 L508.47,259.82 L506.78,259.53 L505.09,259.26 L503.40,259.02 L501.71,258.81 L500.02,258.62 L498.33,258.47 L496.64,258.33 L494.95,258.23 L493.26,258.15 L491.57,258.10 L489.88,258.07 L488.20,258.06 L486.51,258.09 L484.82,258.13 L483.13,258.20 L481.44,258.29 L479.75,258.41 L478.06,258.55 L476.37,258.72 L474.68,258.91 L472.99,259.12 L471.30,259.36 L469.61,259.61 L467.92,259.89 L466.23,260.19 L464.54,260.51 L462.85,260.84 L461.16,261.19 L459.47,261.56 L457.79,261.95 L456.10,262.35 L454.41,262.76 L452.72,263.18 L451.03,263.62 L449.34,264.07 L447.65,264.52 L445.96,264.99 L444.27,265.46 L442.58,265.94 L440.89,266.43 L439.20,266.93 L437.51,267.45 L435.82,267.98 L434.13,268.52 L432.44,269.08 L430.75,269.65 L429.06,270.24 L427.38,270.85 L425.69,271.48 L424.00,272.12 L422.31,272.79 L420.62,273.48 L418.93,274.19 L417.24,274.91 L415.55,275.65 L413.86,276.40 L412.17,277.16 L410.48,277.93 L408.79,278.71 L407.10,279.50 L405.41,280.30 L403.72,281.10 L402.03,281.91 L400.34,282.73 L398.65,283.54 L396.97,284.37 L395.28,285.19 L393.59,286.01 L391.90,286.84 L390.21,287.67 L388.52,288.49 L386.83,289.31 L385.14,290.13 L383.45,290.94 L381.76,291.75 L380.07,292.55 L378.38,293.34 L376.69,294.12 L375.00,294.87 L373.31,295.61 L371.62,296.34 L369.93,297.05 L368.24,297.76 L366.56,298.46 L364.87,299.15 L363.18,299.84 L361.49,300.53 L359.80,301.21 L358.11,301.89 L356.42,302.56 L354.73,303.21 L353.04,303.85 L351.35,304.49 L349.66,305.12 L347.97,305.75 L346.28,306.38 L344.59,307.01 L342.90,307.62 L341.21,308.23 L339.52,308.83 L337.83,309.42 L336.15,310.02 L334.46,310.62 L332.77,311.23 L331.08,311.86 L329.39,312.50 L327.70,313.14 L326.01,313.78 L324.32,314.42 L322.63,315.05 L320.94,315.67 L319.25,316.29 L317.56,316.91 L315.87,317.53 L314.18,318.13 L312.49,318.74 L310.80,319.34 L309.11,319.93 L307.42,320.52 L305.74,321.11 L304.05,321.69 L302.36,322.26 L300.67,322.83 L298.98,323.39 L297.29,323.95 L295.60,324.50 L293.91,325.04 L292.22,325.57 L290.53,326.09 L288.84,326.60 L287.15,327.11 L285.46,327.61 L283.77,328.10 L282.08,328.58 L280.39,329.05 L278.70,329.52 L277.01,329.97 L275.33,330.42 L273.64,330.86 L271.95,331.29 L270.26,331.72 L268.57,332.13 L266.88,332.54 L265.19,332.94 L263.50,333.33 L261.81,333.71 L260.12,334.09 L258.43,334.45 L256.74,334.81 L255.05,335.16 L253.36,335.50 L251.67,335.83 L249.98,336.16 L248.29,336.47 L246.60,336.78 L244.92,337.07 L243.23,337.35 L241.54,337.63 L239.85,337.89 L238.16,338.15 L236.47,338.39 L234.78,338.62 L233.09,338.85 L231.40,339.06 L229.71,339.26 L228.02,339.45 L226.33,339.63 L224.64,339.80 L222.95,339.96 L221.26,340.11 L219.57,340.25 L217.88,340.38 L216.19,340.49 L214.51,340.60 L212.82,340.69 L211.13,340.78 L209.44,340.85 L207.75,340.91 L206.06,340.96 L204.37,341.00 L202.68,341.02 L200.99,341.04 L199.30,341.04 Z" fill="rgba(99,99,99,0.380)"/><path d="M199.30,338.54 L200.99,338.54 L202.68,338.52 L204.37,338.50 L206.06,338.46 L207.75,338.41 L209.44,338.35 L211.13,338.28 L212.82,338.19 L214.51,338.10 L216.19,337.99 L217.88,337.88 L219.57,337.75 L221.26,337.61 L222.95,337.46 L224.64,337.30 L226.33,337.13 L228.02,336.95 L229.71,336.76 L231.40,336.56 L233.09,336.35 L234.78,336.12 L236.47,335.89 L238.16,335.65 L239.85,335.39 L241.54,335.13 L243.23,334.85 L244.92,334.57 L246.60,334.28 L248.29,333.97 L249.98,333.66 L251.67,333.33 L253.36,333.00 L255.05,332.65 L256.74,332.30 L258.43,331.93 L260.12,331.56 L261.81,331.18 L263.50,330.78 L265.19,330.38 L266.88,329.97 L268.57,329.55 L270.26,329.12 L271.95,328.68 L273.64,328.23 L275.33,327.77 L277.01,327.30 L278.70,326.83 L280.39,326.34 L282.08,325.84 L283.77,325.34 L285.46,324.83 L287.15,324.31 L288.84,323.78 L290.53,323.24 L292.22,322.69 L293.91,322.13 L295.60,321.57 L297.29,320.99 L298.98,320.41 L300.67,319.82 L302.36,319.22 L304.05,318.61 L305.74,318.00 L307.42,317.37 L309.11,316.74 L310.80,316.10 L312.49,315.45 L314.18,314.79 L315.87,314.13 L317.56,313.46 L319.25,312.78 L320.94,312.09 L322.63,311.39 L324.32,310.69 L326.01,309.98 L327.70,309.26 L329.39,308.53 L331.08,307.80 L332.77,307.05 L334.46,306.30 L336.15,305.55 L337.83,304.78 L339.52,304.01 L341.21,303.23 L342.90,302.45 L344.59,301.66 L346.28,300.86 L347.97,300.05 L349.66,299.24 L351.35,298.42 L353.04,297.59 L354.73,296.76 L356.42,295.92 L358.11,295.08 L359.80,294.23 L361.49,293.38 L363.18,292.53 L364.87,291.67 L366.56,290.81 L368.24,289.95 L369.93,289.08 L371.62,288.21 L373.31,287.34 L375.00,286.47 L376.69,285.60 L378.38,284.73 L380.07,283.85 L381.76,282.98 L383.45,282.10 L385.14,281.23 L386.83,280.36 L388.52,279.49 L390.21,278.62 L391.90,277.75 L393.59,276.89 L395.28,276.02 L396.97,275.17 L398.65,274.31 L400.34,273.46 L402.03,272.61 L403.72,271.77 L405.41,270.93 L407.10,270.09 L408.79,269.27 L410.48,268.44 L412.17,267.63 L413.86,266.82 L415.55,266.02 L417.24,265.22 L418.93,264.43 L420.62,263.65 L422.31,262.88 L424.00,262.12 L425.69,261.36 L427.38,260.62 L429.06,259.88 L430.75,259.15 L432.44,258.44 L434.13,257.73 L435.82,257.04 L437.51,256.36 L439.20,255.69 L440.89,255.03 L442.58,254.38 L444.27,253.75 L445.96,253.12 L447.65,252.52 L449.34,251.92 L451.03,251.34 L452.72,250.77 L454.41,250.22 L456.10,249.69 L457.79,249.16 L459.47,248.66 L461.16,248.17 L462.85,247.70 L464.54,247.24 L466.23,246.80 L467.92,246.38 L469.61,245.97 L471.30,245.59 L472.99,245.22 L474.68,244.87 L476.37,244.54 L478.06,244.23 L479.75,243.93 L481.44,243.66 L483.13,243.41 L484.82,243.18 L486.51,242.97 L488.20,242.78 L489.88,242.62 L491.57,242.47 L493.26,242.35 L494.95,242.25 L496.64,242.18 L498.33,242.12 L500.02,242.10 L501.71,242.09 L503.40,242.11 L505.09,242.15 L506.78,242.22 L508.47,242.32 L510.16,242.44 L511.85,242.59 L513.54,242.76 L515.23,242.96 L516.92,243.19 L518.61,243.44 L520.29,243.73 L521.98,244.04 L523.67,244.38 L525.36,244.75 L527.05,245.14 L528.74,245.57 L530.43,246.03 L532.12,246.51 L533.81,247.03 L535.50,247.58" fill="none" stroke="#646464" stroke-width="4.2"/>
<path d="M182.5,4 V358 H552.5" fill="none" stroke="#6b6b6b" stroke-width="1.1"/>
<line x1="177.5" y1="341.7" x2="182.5" y2="341.7" stroke="#7a7a7a" stroke-width="1"/><text x="172.9" y="346.5" text-anchor="end" font-size="13.0" >0</text><line x1="177.5" y1="246.4" x2="182.5" y2="246.4" stroke="#7a7a7a" stroke-width="1"/><text x="172.9" y="251.2" text-anchor="end" font-size="13.0" >50</text><line x1="177.5" y1="151.0" x2="182.5" y2="151.0" stroke="#7a7a7a" stroke-width="1"/><text x="172.9" y="155.8" text-anchor="end" font-size="13.0" >100</text><line x1="177.5" y1="55.6" x2="182.5" y2="55.6" stroke="#7a7a7a" stroke-width="1"/><text x="172.9" y="60.4" text-anchor="end" font-size="13.0" >150</text>
<line x1="204.0" y1="358.0" x2="204.0" y2="363.0" stroke="#7a7a7a" stroke-width="1"/><text x="204.0" y="378.0" text-anchor="middle" font-size="13.0" >2.4</text><line x1="290.5" y1="358.0" x2="290.5" y2="363.0" stroke="#7a7a7a" stroke-width="1"/><text x="290.5" y="378.0" text-anchor="middle" font-size="13.0" >2.6</text><line x1="377.0" y1="358.0" x2="377.0" y2="363.0" stroke="#7a7a7a" stroke-width="1"/><text x="377.0" y="378.0" text-anchor="middle" font-size="13.0" >2.8</text><line x1="463.5" y1="358.0" x2="463.5" y2="363.0" stroke="#7a7a7a" stroke-width="1"/><text x="463.5" y="378.0" text-anchor="middle" font-size="13.0" >3.0</text><line x1="550.0" y1="358.0" x2="550.0" y2="363.0" stroke="#7a7a7a" stroke-width="1"/><text x="550.0" y="378.0" text-anchor="middle" font-size="13.0" >3.2</text>
<text x="367.5" y="401" text-anchor="middle" font-size="13" >log<tspan font-size="9.5" dy="3">10</tspan><tspan dy="-3"> Surface area (cm</tspan><tspan font-size="9.5" dy="-5">2</tspan><tspan dy="5">)</tspan></text>
<text transform="translate(139.3,180.8) rotate(-90)" text-anchor="middle" font-size="13.3" >Oyster recruit count</text>
<text x="128.3" y="8.1" font-size="15.5" font-weight="bold" stroke="#000" stroke-width="0.5" >a</text>
<line x1="192.5" y1="18.35" x2="231.5" y2="18.35" stroke="#cc6322" stroke-width="6.9" stroke-linecap="round"/>
<line x1="192.5" y1="43.65" x2="231.5" y2="43.65" stroke="#5e5e5e" stroke-width="6.9" stroke-linecap="round"/>
<text x="240.3" y="23.1" font-size="13" >Caged</text>
<text x="240.3" y="48.6" font-size="13" >Uncaged</text>
<circle class="p2" cx="66.0" cy="526.1" r="3.9"/>
<circle class="p3" cx="66.0" cy="529.0" r="3.9"/>
<circle class="p3" cx="66.0" cy="529.0" r="3.9"/>
<circle class="p3" cx="66.0" cy="532.5" r="3.9"/>
<circle class="p3" cx="66.0" cy="532.5" r="3.9"/>
<circle class="p3" cx="66.0" cy="538.4" r="3.9"/>
<circle class="p3" cx="66.0" cy="538.4" r="3.9"/>
<circle class="p3" cx="66.0" cy="538.4" r="3.9"/>
<circle class="p3" cx="66.0" cy="538.4" r="3.9"/>
<circle class="p3" cx="66.0" cy="541.3" r="3.9"/>
<circle class="p3" cx="66.0" cy="541.3" r="3.9"/>
<circle class="p3" cx="66.0" cy="545.4" r="3.9"/>
<circle class="p3" cx="66.0" cy="545.4" r="3.9"/>
<circle class="p3" cx="66.0" cy="545.4" r="3.9"/>
<circle class="p3" cx="66.0" cy="545.4" r="3.9"/>
<circle class="p3" cx="66.0" cy="550.0" r="3.9"/>
<circle class="p3" cx="66.0" cy="550.0" r="3.9"/>
<circle class="p3" cx="66.0" cy="552.4" r="3.9"/>
<circle class="p3" cx="66.0" cy="552.4" r="3.9"/>
<circle class="p3" cx="66.0" cy="552.4" r="3.9"/>
<circle class="p3" cx="66.0" cy="552.4" r="3.9"/>
<circle class="p3" cx="66.0" cy="555.9" r="3.9"/>
<circle class="p3" cx="66.0" cy="555.9" r="3.9"/>
<circle class="p3" cx="66.0" cy="560.6" r="3.9"/>
<circle class="p3" cx="66.0" cy="560.6" r="3.9"/>
<circle class="p3" cx="66.0" cy="560.6" r="3.9"/>
<circle class="p3" cx="66.0" cy="560.6" r="3.9"/>
<circle class="p3" cx="66.0" cy="564.1" r="3.9"/>
<circle class="p3" cx="66.0" cy="564.1" r="3.9"/>
<circle class="p3" cx="66.0" cy="568.7" r="3.9"/>
<circle class="p3" cx="66.0" cy="568.7" r="3.9"/>
<circle class="p3" cx="66.0" cy="568.7" r="3.9"/>
<circle class="p3" cx="66.0" cy="568.7" r="3.9"/>
<circle class="p3" cx="66.0" cy="572.2" r="3.9"/>
<circle class="p3" cx="66.0" cy="572.2" r="3.9"/>
<circle class="p3" cx="66.0" cy="575.7" r="3.9"/>
<circle class="p3" cx="66.0" cy="575.7" r="3.9"/>
<circle class="p3" cx="66.0" cy="575.7" r="3.9"/>
<circle class="p3" cx="66.0" cy="575.7" r="3.9"/>
<circle class="p3" cx="66.0" cy="580.4" r="3.9"/>
<circle class="p3" cx="66.0" cy="580.4" r="3.9"/>
<circle class="p3" cx="66.0" cy="582.8" r="3.9"/>
<circle class="p3" cx="66.0" cy="582.8" r="3.9"/>
<circle class="p3" cx="66.0" cy="593.4" r="3.9"/>
<circle class="p4" cx="66.0" cy="593.4" r="3.9"/>
<circle class="p3" cx="66.0" cy="593.4" r="3.9"/>
<circle class="p4" cx="66.0" cy="593.4" r="3.9"/>
<circle class="p3" cx="66.0" cy="596.8" r="3.9"/>
<circle class="p3" cx="66.0" cy="596.8" r="3.9"/>
<circle class="p3" cx="66.0" cy="600.1" r="3.9"/>
<circle class="p3" cx="66.0" cy="600.1" r="3.9"/>
<circle class="p4" cx="66.0" cy="605.2" r="3.9"/>
<circle class="p4" cx="66.0" cy="605.2" r="3.9"/>
<circle class="p3" cx="66.0" cy="609.4" r="3.9"/>
<circle class="p4" cx="66.0" cy="609.4" r="3.9"/>
<circle class="p3" cx="66.0" cy="609.4" r="3.9"/>
<circle class="p4" cx="66.0" cy="609.4" r="3.9"/>
<circle class="p3" cx="66.0" cy="613.6" r="3.9"/>
<circle class="p3" cx="66.0" cy="613.6" r="3.9"/>
<circle class="p3" cx="66.0" cy="613.6" r="3.9"/>
<circle class="p3" cx="66.0" cy="613.6" r="3.9"/>
<circle class="p3" cx="66.0" cy="617.0" r="3.9"/>
<circle class="p3" cx="66.0" cy="617.0" r="3.9"/>
<circle class="p3" cx="66.0" cy="620.4" r="3.9"/>
<circle class="p4" cx="66.0" cy="620.4" r="3.9"/>
<circle class="p3" cx="66.0" cy="620.4" r="3.9"/>
<circle class="p4" cx="66.0" cy="620.4" r="3.9"/>
<circle class="p4" cx="66.0" cy="623.8" r="3.9"/>
<circle class="p4" cx="66.0" cy="623.8" r="3.9"/>
<circle class="p4" cx="66.0" cy="627.2" r="3.9"/>
<circle class="p4" cx="66.0" cy="627.2" r="3.9"/>
<circle class="p3" cx="66.0" cy="630.5" r="3.9"/>
<circle class="p4" cx="66.0" cy="630.5" r="3.9"/>
<circle class="p3" cx="66.0" cy="630.5" r="3.9"/>
<circle class="p4" cx="66.0" cy="630.5" r="3.9"/>
<circle class="p3" cx="66.0" cy="633.9" r="3.9"/>
<circle class="p3" cx="66.0" cy="633.9" r="3.9"/>
<circle class="p3" cx="66.0" cy="633.9" r="3.9"/>
<circle class="p3" cx="66.0" cy="633.9" r="3.9"/>
<circle class="p3" cx="66.0" cy="637.3" r="3.9"/>
<circle class="p3" cx="66.0" cy="637.3" r="3.9"/>
<circle class="p3" cx="66.0" cy="642.4" r="3.9"/>
<circle class="p4" cx="66.0" cy="642.4" r="3.9"/>
<circle class="p3" cx="66.0" cy="642.4" r="3.9"/>
<circle class="p4" cx="66.0" cy="642.4" r="3.9"/>
<circle class="p3" cx="66.0" cy="645.8" r="3.9"/>
<circle class="p4" cx="66.0" cy="645.8" r="3.9"/>
<circle class="p3" cx="66.0" cy="645.8" r="3.9"/>
<circle class="p4" cx="66.0" cy="645.8" r="3.9"/>
<circle class="p3" cx="66.0" cy="649.1" r="3.9"/>
<circle class="p4" cx="66.0" cy="649.1" r="3.9"/>
<circle class="p3" cx="66.0" cy="649.1" r="3.9"/>
<circle class="p4" cx="66.0" cy="649.1" r="3.9"/>
<circle class="p4" cx="66.0" cy="654.2" r="3.9"/>
<circle class="p4" cx="66.0" cy="654.2" r="3.9"/>
<circle class="p3" cx="66.0" cy="657.6" r="3.9"/>
<circle class="p3" cx="66.0" cy="657.6" r="3.9"/>
<circle class="p3" cx="66.0" cy="657.6" r="3.9"/>
<circle class="p3" cx="66.0" cy="657.6" r="3.9"/>
<circle class="p3" cx="66.0" cy="662.7" r="3.9"/>
<circle class="p4" cx="66.0" cy="662.7" r="3.9"/>
<circle class="p3" cx="66.0" cy="662.7" r="3.9"/>
<circle class="p4" cx="66.0" cy="662.7" r="3.9"/>
<circle class="p4" cx="66.0" cy="667.7" r="3.9"/>
<circle class="p4" cx="66.0" cy="667.7" r="3.9"/>
<circle class="p4" cx="66.0" cy="667.7" r="3.9"/>
<circle class="p4" cx="66.0" cy="667.7" r="3.9"/>
<circle class="p3" cx="66.0" cy="671.1" r="3.9"/>
<circle class="p3" cx="66.0" cy="671.1" r="3.9"/>
<circle class="p3" cx="66.0" cy="674.5" r="3.9"/>
<circle class="p3" cx="66.0" cy="674.5" r="3.9"/>
<circle class="p3" cx="66.0" cy="674.5" r="3.9"/>
<circle class="p3" cx="66.0" cy="674.5" r="3.9"/>
<circle class="p3" cx="66.0" cy="677.9" r="3.9"/>
<circle class="p4" cx="66.0" cy="677.9" r="3.9"/>
<circle class="p3" cx="66.0" cy="677.9" r="3.9"/>
<circle class="p4" cx="66.0" cy="677.9" r="3.9"/>
<circle class="p4" cx="66.0" cy="681.2" r="3.9"/>
<circle class="p4" cx="66.0" cy="681.2" r="3.9"/>
<circle class="p4" cx="66.0" cy="684.6" r="3.9"/>
<circle class="p4" cx="66.0" cy="684.6" r="3.9"/>
<circle class="p5" cx="66.0" cy="689.7" r="3.9"/>
<circle class="p4" cx="66.0" cy="712.3" r="3.9"/>
<circle class="p4" cx="66.0" cy="712.3" r="3.9"/>
<circle class="p4" cx="66.0" cy="712.3" r="3.9"/>
<circle class="p4" cx="66.0" cy="712.3" r="3.9"/>
<circle class="p4" cx="66.0" cy="712.3" r="3.9"/>
<circle class="p4" cx="66.0" cy="712.3" r="3.9"/>
<circle class="p4" cx="66.0" cy="712.3" r="3.9"/>
<circle class="p4" cx="66.0" cy="712.3" r="3.9"/>
<circle class="p4" cx="66.0" cy="712.3" r="3.9"/>
<circle class="p4" cx="66.0" cy="712.3" r="3.9"/>
<circle class="p2" cx="194.0" cy="452.7" r="3.9"/>
<circle class="p2" cx="194.0" cy="506.9" r="3.9"/>
<circle class="p3" cx="194.0" cy="533.6" r="3.9"/>
<circle class="p3" cx="194.0" cy="533.6" r="3.9"/>
<circle class="p3" cx="194.0" cy="533.6" r="3.9"/>
<circle class="p3" cx="194.0" cy="533.6" r="3.9"/>
<circle class="p3" cx="194.0" cy="538.6" r="3.9"/>
<circle class="p3" cx="194.0" cy="538.6" r="3.9"/>
<circle class="p3" cx="194.0" cy="542.9" r="3.9"/>
<circle class="p3" cx="194.0" cy="542.9" r="3.9"/>
<circle class="p3" cx="194.0" cy="542.9" r="3.9"/>
<circle class="p3" cx="194.0" cy="542.9" r="3.9"/>
<circle class="p4" cx="194.0" cy="547.1" r="3.9"/>
<circle class="p4" cx="194.0" cy="547.1" r="3.9"/>
<circle class="p3" cx="194.0" cy="552.9" r="3.9"/>
<circle class="p4" cx="194.0" cy="552.9" r="3.9"/>
<circle class="p3" cx="194.0" cy="552.9" r="3.9"/>
<circle class="p4" cx="194.0" cy="552.9" r="3.9"/>
<circle class="p3" cx="194.0" cy="556.5" r="3.9"/>
<circle class="p4" cx="194.0" cy="556.5" r="3.9"/>
<circle class="p3" cx="194.0" cy="556.5" r="3.9"/>
<circle class="p4" cx="194.0" cy="556.5" r="3.9"/>
<circle class="p3" cx="194.0" cy="560.0" r="3.9"/>
<circle class="p3" cx="194.0" cy="560.0" r="3.9"/>
<circle class="p3" cx="194.0" cy="560.0" r="3.9"/>
<circle class="p3" cx="194.0" cy="560.0" r="3.9"/>
<circle class="p3" cx="194.0" cy="562.9" r="3.9"/>
<circle class="p3" cx="194.0" cy="562.9" r="3.9"/>
<circle class="p3" cx="194.0" cy="566.5" r="3.9"/>
<circle class="p3" cx="194.0" cy="566.5" r="3.9"/>
<circle class="p3" cx="194.0" cy="570.0" r="3.9"/>
<circle class="p3" cx="194.0" cy="570.0" r="3.9"/>
<circle class="p3" cx="194.0" cy="570.0" r="3.9"/>
<circle class="p3" cx="194.0" cy="570.0" r="3.9"/>
<circle class="p3" cx="194.0" cy="572.9" r="3.9"/>
<circle class="p3" cx="194.0" cy="572.9" r="3.9"/>
<circle class="p3" cx="194.0" cy="576.5" r="3.9"/>
<circle class="p4" cx="194.0" cy="576.5" r="3.9"/>
<circle class="p3" cx="194.0" cy="576.5" r="3.9"/>
<circle class="p4" cx="194.0" cy="576.5" r="3.9"/>
<circle class="p3" cx="194.0" cy="580.0" r="3.9"/>
<circle class="p4" cx="194.0" cy="580.0" r="3.9"/>
<circle class="p3" cx="194.0" cy="580.0" r="3.9"/>
<circle class="p4" cx="194.0" cy="580.0" r="3.9"/>
<circle class="p3" cx="194.0" cy="591.4" r="3.9"/>
<circle class="p4" cx="194.0" cy="591.4" r="3.9"/>
<circle class="p3" cx="194.0" cy="591.4" r="3.9"/>
<circle class="p4" cx="194.0" cy="591.4" r="3.9"/>
<circle class="p3" cx="194.0" cy="595.0" r="3.9"/>
<circle class="p4" cx="194.0" cy="595.0" r="3.9"/>
<circle class="p3" cx="194.0" cy="595.0" r="3.9"/>
<circle class="p4" cx="194.0" cy="595.0" r="3.9"/>
<circle class="p3" cx="194.0" cy="598.6" r="3.9"/>
<circle class="p4" cx="194.0" cy="598.6" r="3.9"/>
<circle class="p3" cx="194.0" cy="598.6" r="3.9"/>
<circle class="p4" cx="194.0" cy="598.6" r="3.9"/>
<circle class="p3" cx="194.0" cy="602.9" r="3.9"/>
<circle class="p3" cx="194.0" cy="602.9" r="3.9"/>
<circle class="p3" cx="194.0" cy="606.2" r="3.9"/>
<circle class="p4" cx="194.0" cy="606.2" r="3.9"/>
<circle class="p3" cx="194.0" cy="606.2" r="3.9"/>
<circle class="p4" cx="194.0" cy="606.2" r="3.9"/>
<circle class="p3" cx="194.0" cy="609.3" r="3.9"/>
<circle class="p4" cx="194.0" cy="609.3" r="3.9"/>
<circle class="p3" cx="194.0" cy="609.3" r="3.9"/>
<circle class="p4" cx="194.0" cy="609.3" r="3.9"/>
<circle class="p3" cx="194.0" cy="612.4" r="3.9"/>
<circle class="p4" cx="194.0" cy="612.4" r="3.9"/>
<circle class="p3" cx="194.0" cy="612.4" r="3.9"/>
<circle class="p4" cx="194.0" cy="612.4" r="3.9"/>
<circle class="p3" cx="194.0" cy="617.1" r="3.9"/>
<circle class="p4" cx="194.0" cy="617.1" r="3.9"/>
<circle class="p3" cx="194.0" cy="617.1" r="3.9"/>
<circle class="p4" cx="194.0" cy="617.1" r="3.9"/>
<circle class="p3" cx="194.0" cy="621.8" r="3.9"/>
<circle class="p3" cx="194.0" cy="621.8" r="3.9"/>
<circle class="p3" cx="194.0" cy="621.8" r="3.9"/>
<circle class="p3" cx="194.0" cy="621.8" r="3.9"/>
<circle class="p3" cx="194.0" cy="626.4" r="3.9"/>
<circle class="p3" cx="194.0" cy="626.4" r="3.9"/>
<circle class="p3" cx="194.0" cy="630.3" r="3.9"/>
<circle class="p4" cx="194.0" cy="630.3" r="3.9"/>
<circle class="p3" cx="194.0" cy="630.3" r="3.9"/>
<circle class="p4" cx="194.0" cy="630.3" r="3.9"/>
<circle class="p4" cx="194.0" cy="634.2" r="3.9"/>
<circle class="p4" cx="194.0" cy="634.2" r="3.9"/>
<circle class="p3" cx="194.0" cy="637.3" r="3.9"/>
<circle class="p4" cx="194.0" cy="637.3" r="3.9"/>
<circle class="p3" cx="194.0" cy="637.3" r="3.9"/>
<circle class="p4" cx="194.0" cy="637.3" r="3.9"/>
<circle class="p3" cx="194.0" cy="640.4" r="3.9"/>
<circle class="p4" cx="194.0" cy="640.4" r="3.9"/>
<circle class="p3" cx="194.0" cy="640.4" r="3.9"/>
<circle class="p4" cx="194.0" cy="640.4" r="3.9"/>
<circle class="p3" cx="194.0" cy="643.5" r="3.9"/>
<circle class="p4" cx="194.0" cy="643.5" r="3.9"/>
<circle class="p3" cx="194.0" cy="643.5" r="3.9"/>
<circle class="p4" cx="194.0" cy="643.5" r="3.9"/>
<circle class="p3" cx="194.0" cy="646.6" r="3.9"/>
<circle class="p4" cx="194.0" cy="646.6" r="3.9"/>
<circle class="p3" cx="194.0" cy="646.6" r="3.9"/>
<circle class="p4" cx="194.0" cy="646.6" r="3.9"/>
<circle class="p3" cx="194.0" cy="651.3" r="3.9"/>
<circle class="p4" cx="194.0" cy="651.3" r="3.9"/>
<circle class="p3" cx="194.0" cy="651.3" r="3.9"/>
<circle class="p4" cx="194.0" cy="651.3" r="3.9"/>
<circle class="p3" cx="194.0" cy="656.0" r="3.9"/>
<circle class="p4" cx="194.0" cy="656.0" r="3.9"/>
<circle class="p3" cx="194.0" cy="656.0" r="3.9"/>
<circle class="p4" cx="194.0" cy="656.0" r="3.9"/>
<circle class="p3" cx="194.0" cy="660.6" r="3.9"/>
<circle class="p4" cx="194.0" cy="660.6" r="3.9"/>
<circle class="p3" cx="194.0" cy="660.6" r="3.9"/>
<circle class="p4" cx="194.0" cy="660.6" r="3.9"/>
<circle class="p4" cx="194.0" cy="665.3" r="3.9"/>
<circle class="p4" cx="194.0" cy="665.3" r="3.9"/>
<circle class="p4" cx="194.0" cy="665.3" r="3.9"/>
<circle class="p4" cx="194.0" cy="665.3" r="3.9"/>
<circle class="p3" cx="194.0" cy="669.2" r="3.9"/>
<circle class="p4" cx="194.0" cy="669.2" r="3.9"/>
<circle class="p3" cx="194.0" cy="669.2" r="3.9"/>
<circle class="p4" cx="194.0" cy="669.2" r="3.9"/>
<circle class="p3" cx="194.0" cy="673.1" r="3.9"/>
<circle class="p3" cx="194.0" cy="673.1" r="3.9"/>
<circle class="p3" cx="194.0" cy="673.1" r="3.9"/>
<circle class="p3" cx="194.0" cy="673.1" r="3.9"/>
<circle class="p3" cx="194.0" cy="676.2" r="3.9"/>
<circle class="p3" cx="194.0" cy="676.2" r="3.9"/>
<circle class="p3" cx="194.0" cy="680.5" r="3.9"/>
<circle class="p4" cx="194.0" cy="680.5" r="3.9"/>
<circle class="p3" cx="194.0" cy="680.5" r="3.9"/>
<circle class="p4" cx="194.0" cy="680.5" r="3.9"/>
<circle class="p3" cx="194.0" cy="684.7" r="3.9"/>
<circle class="p4" cx="194.0" cy="684.7" r="3.9"/>
<circle class="p3" cx="194.0" cy="684.7" r="3.9"/>
<circle class="p4" cx="194.0" cy="684.7" r="3.9"/>
<circle class="p5" cx="194.0" cy="688.6" r="3.9"/>
<circle class="p3" cx="194.0" cy="712.3" r="3.9"/>
<circle class="p3" cx="194.0" cy="712.3" r="3.9"/>
<circle class="p4" cx="194.0" cy="712.3" r="3.9"/>
<circle class="p4" cx="194.0" cy="712.3" r="3.9"/>
<circle class="p4" cx="194.0" cy="712.3" r="3.9"/>
<circle class="p4" cx="194.0" cy="712.3" r="3.9"/>
<circle class="p4" cx="194.0" cy="712.3" r="3.9"/>
<circle class="p4" cx="194.0" cy="712.3" r="3.9"/>
<circle class="p5" cx="259.0" cy="522.9" r="3.9"/>
<circle class="p3" cx="259.0" cy="528.6" r="3.9"/>
<circle class="p3" cx="259.0" cy="528.6" r="3.9"/>
<circle class="p3" cx="259.0" cy="528.6" r="3.9"/>
<circle class="p3" cx="259.0" cy="528.6" r="3.9"/>
<circle class="p3" cx="259.0" cy="532.0" r="3.9"/>
<circle class="p3" cx="259.0" cy="532.0" r="3.9"/>
<circle class="p3" cx="259.0" cy="535.5" r="3.9"/>
<circle class="p3" cx="259.0" cy="535.5" r="3.9"/>
<circle class="p3" cx="259.0" cy="538.5" r="3.9"/>
<circle class="p3" cx="259.0" cy="538.5" r="3.9"/>
<circle class="p3" cx="259.0" cy="541.6" r="3.9"/>
<circle class="p3" cx="259.0" cy="541.6" r="3.9"/>
<circle class="p3" cx="259.0" cy="541.6" r="3.9"/>
<circle class="p3" cx="259.0" cy="541.6" r="3.9"/>
<circle class="p3" cx="259.0" cy="544.3" r="3.9"/>
<circle class="p3" cx="259.0" cy="544.3" r="3.9"/>
<circle class="p3" cx="259.0" cy="547.7" r="3.9"/>
<circle class="p3" cx="259.0" cy="547.7" r="3.9"/>
<circle class="p3" cx="259.0" cy="551.1" r="3.9"/>
<circle class="p3" cx="259.0" cy="551.1" r="3.9"/>
<circle class="p3" cx="259.0" cy="554.5" r="3.9"/>
<circle class="p3" cx="259.0" cy="554.5" r="3.9"/>
<circle class="p3" cx="259.0" cy="554.5" r="3.9"/>
<circle class="p3" cx="259.0" cy="554.5" r="3.9"/>
<circle class="p3" cx="259.0" cy="557.3" r="3.9"/>
<circle class="p4" cx="259.0" cy="557.3" r="3.9"/>
<circle class="p3" cx="259.0" cy="557.3" r="3.9"/>
<circle class="p4" cx="259.0" cy="557.3" r="3.9"/>
<circle class="p3" cx="259.0" cy="561.4" r="3.9"/>
<circle class="p3" cx="259.0" cy="561.4" r="3.9"/>
<circle class="p3" cx="259.0" cy="565.5" r="3.9"/>
<circle class="p3" cx="259.0" cy="565.5" r="3.9"/>
<circle class="p3" cx="259.0" cy="565.5" r="3.9"/>
<circle class="p3" cx="259.0" cy="565.5" r="3.9"/>
<circle class="p3" cx="259.0" cy="568.2" r="3.9"/>
<circle class="p3" cx="259.0" cy="568.2" r="3.9"/>
<circle class="p3" cx="259.0" cy="573.6" r="3.9"/>
<circle class="p4" cx="259.0" cy="573.6" r="3.9"/>
<circle class="p3" cx="259.0" cy="573.6" r="3.9"/>
<circle class="p4" cx="259.0" cy="573.6" r="3.9"/>
<circle class="p3" cx="259.0" cy="577.7" r="3.9"/>
<circle class="p4" cx="259.0" cy="577.7" r="3.9"/>
<circle class="p3" cx="259.0" cy="577.7" r="3.9"/>
<circle class="p4" cx="259.0" cy="577.7" r="3.9"/>
<circle class="p5" cx="259.0" cy="585.2" r="3.9"/>
<circle class="p3" cx="259.0" cy="589.3" r="3.9"/>
<circle class="p3" cx="259.0" cy="589.3" r="3.9"/>
<circle class="p3" cx="259.0" cy="593.0" r="3.9"/>
<circle class="p4" cx="259.0" cy="593.0" r="3.9"/>
<circle class="p3" cx="259.0" cy="593.0" r="3.9"/>
<circle class="p4" cx="259.0" cy="593.0" r="3.9"/>
<circle class="p4" cx="259.0" cy="596.8" r="3.9"/>
<circle class="p4" cx="259.0" cy="596.8" r="3.9"/>
<circle class="p4" cx="259.0" cy="596.8" r="3.9"/>
<circle class="p4" cx="259.0" cy="596.8" r="3.9"/>
<circle class="p3" cx="259.0" cy="602.3" r="3.9"/>
<circle class="p4" cx="259.0" cy="602.3" r="3.9"/>
<circle class="p3" cx="259.0" cy="602.3" r="3.9"/>
<circle class="p4" cx="259.0" cy="602.3" r="3.9"/>
<circle class="p3" cx="259.0" cy="606.4" r="3.9"/>
<circle class="p4" cx="259.0" cy="606.4" r="3.9"/>
<circle class="p3" cx="259.0" cy="606.4" r="3.9"/>
<circle class="p4" cx="259.0" cy="606.4" r="3.9"/>
<circle class="p3" cx="259.0" cy="610.5" r="3.9"/>
<circle class="p4" cx="259.0" cy="610.5" r="3.9"/>
<circle class="p3" cx="259.0" cy="610.5" r="3.9"/>
<circle class="p4" cx="259.0" cy="610.5" r="3.9"/>
<circle class="p3" cx="259.0" cy="614.3" r="3.9"/>
<circle class="p4" cx="259.0" cy="614.3" r="3.9"/>
<circle class="p3" cx="259.0" cy="614.3" r="3.9"/>
<circle class="p4" cx="259.0" cy="614.3" r="3.9"/>
<circle class="p3" cx="259.0" cy="618.6" r="3.9"/>
<circle class="p4" cx="259.0" cy="618.6" r="3.9"/>
<circle class="p3" cx="259.0" cy="618.6" r="3.9"/>
<circle class="p4" cx="259.0" cy="618.6" r="3.9"/>
<circle class="p3" cx="259.0" cy="624.3" r="3.9"/>
<circle class="p3" cx="259.0" cy="624.3" r="3.9"/>
<circle class="p3" cx="259.0" cy="624.3" r="3.9"/>
<circle class="p3" cx="259.0" cy="624.3" r="3.9"/>
<circle class="p3" cx="259.0" cy="630.0" r="3.9"/>
<circle class="p3" cx="259.0" cy="630.0" r="3.9"/>
<circle class="p3" cx="259.0" cy="633.5" r="3.9"/>
<circle class="p4" cx="259.0" cy="633.5" r="3.9"/>
<circle class="p3" cx="259.0" cy="633.5" r="3.9"/>
<circle class="p4" cx="259.0" cy="633.5" r="3.9"/>
<circle class="p3" cx="259.0" cy="637.1" r="3.9"/>
<circle class="p4" cx="259.0" cy="637.1" r="3.9"/>
<circle class="p3" cx="259.0" cy="637.1" r="3.9"/>
<circle class="p4" cx="259.0" cy="637.1" r="3.9"/>
<circle class="p3" cx="259.0" cy="641.4" r="3.9"/>
<circle class="p4" cx="259.0" cy="641.4" r="3.9"/>
<circle class="p3" cx="259.0" cy="641.4" r="3.9"/>
<circle class="p4" cx="259.0" cy="641.4" r="3.9"/>
<circle class="p3" cx="259.0" cy="645.7" r="3.9"/>
<circle class="p3" cx="259.0" cy="645.7" r="3.9"/>
<circle class="p3" cx="259.0" cy="645.7" r="3.9"/>
<circle class="p3" cx="259.0" cy="645.7" r="3.9"/>
<circle class="p3" cx="259.0" cy="650.0" r="3.9"/>
<circle class="p3" cx="259.0" cy="650.0" r="3.9"/>
<circle class="p4" cx="259.0" cy="655.7" r="3.9"/>
<circle class="p4" cx="259.0" cy="655.7" r="3.9"/>
<circle class="p4" cx="259.0" cy="660.0" r="3.9"/>
<circle class="p4" cx="259.0" cy="660.0" r="3.9"/>
<circle class="p4" cx="259.0" cy="664.3" r="3.9"/>
<circle class="p4" cx="259.0" cy="664.3" r="3.9"/>
<circle class="p4" cx="259.0" cy="670.0" r="3.9"/>
<circle class="p4" cx="259.0" cy="670.0" r="3.9"/>
<circle class="p3" cx="259.0" cy="675.7" r="3.9"/>
<circle class="p4" cx="259.0" cy="675.7" r="3.9"/>
<circle class="p3" cx="259.0" cy="675.7" r="3.9"/>
<circle class="p4" cx="259.0" cy="675.7" r="3.9"/>
<circle class="p3" cx="259.0" cy="678.6" r="3.9"/>
<circle class="p3" cx="259.0" cy="678.6" r="3.9"/>
<circle class="p3" cx="259.0" cy="682.9" r="3.9"/>
<circle class="p4" cx="259.0" cy="682.9" r="3.9"/>
<circle class="p3" cx="259.0" cy="682.9" r="3.9"/>
<circle class="p4" cx="259.0" cy="682.9" r="3.9"/>
<circle class="p4" cx="259.0" cy="687.1" r="3.9"/>
<circle class="p4" cx="259.0" cy="687.1" r="3.9"/>
<circle class="p5" cx="259.0" cy="690.0" r="3.9"/>
<circle class="p4" cx="259.0" cy="712.3" r="3.9"/>
<circle class="p4" cx="259.0" cy="712.3" r="3.9"/>
<circle class="p2" cx="340.0" cy="536.0" r="3.9"/>
<circle class="p3" cx="340.0" cy="538.0" r="3.9"/>
<circle class="p3" cx="340.0" cy="538.0" r="3.9"/>
<circle class="p3" cx="340.0" cy="541.5" r="3.9"/>
<circle class="p3" cx="340.0" cy="541.5" r="3.9"/>
<circle class="p3" cx="340.0" cy="545.1" r="3.9"/>
<circle class="p3" cx="340.0" cy="545.1" r="3.9"/>
<circle class="p3" cx="340.0" cy="545.1" r="3.9"/>
<circle class="p3" cx="340.0" cy="545.1" r="3.9"/>
<circle class="p3" cx="340.0" cy="548.4" r="3.9"/>
<circle class="p3" cx="340.0" cy="548.4" r="3.9"/>
<circle class="p3" cx="340.0" cy="551.0" r="3.9"/>
<circle class="p3" cx="340.0" cy="551.0" r="3.9"/>
<circle class="p3" cx="340.0" cy="554.9" r="3.9"/>
<circle class="p3" cx="340.0" cy="554.9" r="3.9"/>
<circle class="p3" cx="340.0" cy="560.1" r="3.9"/>
<circle class="p4" cx="340.0" cy="560.1" r="3.9"/>
<circle class="p3" cx="340.0" cy="560.1" r="3.9"/>
<circle class="p4" cx="340.0" cy="560.1" r="3.9"/>
<circle class="p3" cx="340.0" cy="564.0" r="3.9"/>
<circle class="p3" cx="340.0" cy="564.0" r="3.9"/>
<circle class="p3" cx="340.0" cy="567.9" r="3.9"/>
<circle class="p4" cx="340.0" cy="567.9" r="3.9"/>
<circle class="p3" cx="340.0" cy="567.9" r="3.9"/>
<circle class="p4" cx="340.0" cy="567.9" r="3.9"/>
<circle class="p3" cx="340.0" cy="573.1" r="3.9"/>
<circle class="p3" cx="340.0" cy="573.1" r="3.9"/>
<circle class="p3" cx="340.0" cy="573.1" r="3.9"/>
<circle class="p3" cx="340.0" cy="573.1" r="3.9"/>
<circle class="p3" cx="340.0" cy="577.0" r="3.9"/>
<circle class="p4" cx="340.0" cy="577.0" r="3.9"/>
<circle class="p3" cx="340.0" cy="577.0" r="3.9"/>
<circle class="p4" cx="340.0" cy="577.0" r="3.9"/>
<circle class="p3" cx="340.0" cy="580.8" r="3.9"/>
<circle class="p3" cx="340.0" cy="580.8" r="3.9"/>
<circle class="p3" cx="340.0" cy="580.8" r="3.9"/>
<circle class="p3" cx="340.0" cy="580.8" r="3.9"/>
<circle class="p4" cx="340.0" cy="586.0" r="3.9"/>
<circle class="p4" cx="340.0" cy="586.0" r="3.9"/>
<circle class="p3" cx="340.0" cy="589.9" r="3.9"/>
<circle class="p4" cx="340.0" cy="589.9" r="3.9"/>
<circle class="p3" cx="340.0" cy="589.9" r="3.9"/>
<circle class="p4" cx="340.0" cy="589.9" r="3.9"/>
<circle class="p3" cx="340.0" cy="593.1" r="3.9"/>
<circle class="p4" cx="340.0" cy="593.1" r="3.9"/>
<circle class="p3" cx="340.0" cy="593.1" r="3.9"/>
<circle class="p4" cx="340.0" cy="593.1" r="3.9"/>
<circle class="p3" cx="340.0" cy="596.4" r="3.9"/>
<circle class="p4" cx="340.0" cy="596.4" r="3.9"/>
<circle class="p3" cx="340.0" cy="596.4" r="3.9"/>
<circle class="p4" cx="340.0" cy="596.4" r="3.9"/>
<circle class="p3" cx="340.0" cy="600.3" r="3.9"/>
<circle class="p3" cx="340.0" cy="600.3" r="3.9"/>
<circle class="p3" cx="340.0" cy="604.2" r="3.9"/>
<circle class="p3" cx="340.0" cy="604.2" r="3.9"/>
<circle class="p3" cx="340.0" cy="614.6" r="3.9"/>
<circle class="p3" cx="340.0" cy="614.6" r="3.9"/>
<circle class="p3" cx="340.0" cy="614.6" r="3.9"/>
<circle class="p3" cx="340.0" cy="614.6" r="3.9"/>
<circle class="p3" cx="340.0" cy="617.7" r="3.9"/>
<circle class="p4" cx="340.0" cy="617.7" r="3.9"/>
<circle class="p3" cx="340.0" cy="617.7" r="3.9"/>
<circle class="p4" cx="340.0" cy="617.7" r="3.9"/>
<circle class="p3" cx="340.0" cy="620.5" r="3.9"/>
<circle class="p3" cx="340.0" cy="620.5" r="3.9"/>
<circle class="p3" cx="340.0" cy="625.2" r="3.9"/>
<circle class="p3" cx="340.0" cy="625.2" r="3.9"/>
<circle class="p3" cx="340.0" cy="630.0" r="3.9"/>
<circle class="p3" cx="340.0" cy="630.0" r="3.9"/>
<circle class="p3" cx="340.0" cy="630.0" r="3.9"/>
<circle class="p3" cx="340.0" cy="630.0" r="3.9"/>
<circle class="p3" cx="340.0" cy="634.1" r="3.9"/>
<circle class="p3" cx="340.0" cy="634.1" r="3.9"/>
<circle class="p3" cx="340.0" cy="637.5" r="3.9"/>
<circle class="p4" cx="340.0" cy="637.5" r="3.9"/>
<circle class="p3" cx="340.0" cy="637.5" r="3.9"/>
<circle class="p4" cx="340.0" cy="637.5" r="3.9"/>
<circle class="p4" cx="340.0" cy="640.9" r="3.9"/>
<circle class="p4" cx="340.0" cy="640.9" r="3.9"/>
<circle class="p3" cx="340.0" cy="645.0" r="3.9"/>
<circle class="p4" cx="340.0" cy="645.0" r="3.9"/>
<circle class="p3" cx="340.0" cy="645.0" r="3.9"/>
<circle class="p4" cx="340.0" cy="645.0" r="3.9"/>
<circle class="p3" cx="340.0" cy="649.1" r="3.9"/>
<circle class="p4" cx="340.0" cy="649.1" r="3.9"/>
<circle class="p3" cx="340.0" cy="649.1" r="3.9"/>
<circle class="p4" cx="340.0" cy="649.1" r="3.9"/>
<circle class="p3" cx="340.0" cy="654.5" r="3.9"/>
<circle class="p3" cx="340.0" cy="654.5" r="3.9"/>
<circle class="p3" cx="340.0" cy="654.5" r="3.9"/>
<circle class="p3" cx="340.0" cy="654.5" r="3.9"/>
<circle class="p3" cx="340.0" cy="658.0" r="3.9"/>
<circle class="p4" cx="340.0" cy="658.0" r="3.9"/>
<circle class="p3" cx="340.0" cy="658.0" r="3.9"/>
<circle class="p4" cx="340.0" cy="658.0" r="3.9"/>
<circle class="p4" cx="340.0" cy="661.4" r="3.9"/>
<circle class="p4" cx="340.0" cy="661.4" r="3.9"/>
<circle class="p4" cx="340.0" cy="665.5" r="3.9"/>
<circle class="p4" cx="340.0" cy="665.5" r="3.9"/>
<circle class="p4" cx="340.0" cy="670.9" r="3.9"/>
<circle class="p4" cx="340.0" cy="670.9" r="3.9"/>
<circle class="p3" cx="340.0" cy="675.0" r="3.9"/>
<circle class="p4" cx="340.0" cy="675.0" r="3.9"/>
<circle class="p3" cx="340.0" cy="675.0" r="3.9"/>
<circle class="p4" cx="340.0" cy="675.0" r="3.9"/>
<circle class="p3" cx="340.0" cy="679.1" r="3.9"/>
<circle class="p3" cx="340.0" cy="679.1" r="3.9"/>
<circle class="p3" cx="340.0" cy="679.1" r="3.9"/>
<circle class="p3" cx="340.0" cy="679.1" r="3.9"/>
<circle class="p5" cx="340.0" cy="689.3" r="3.9"/>
<path d="M66.00,597.05 L69.47,597.26 L72.94,597.46 L76.41,597.65 L79.87,597.84 L83.34,598.02 L86.81,598.20 L90.28,598.37 L93.75,598.53 L97.22,598.69 L100.68,598.85 L104.15,598.99 L107.62,599.14 L111.09,599.27 L114.56,599.40 L118.03,599.53 L121.49,599.65 L124.96,599.76 L128.43,599.87 L131.90,599.98 L135.37,600.07 L138.84,600.17 L142.30,600.25 L145.77,600.33 L149.24,600.41 L152.71,600.48 L156.18,600.54 L159.65,600.60 L163.11,600.65 L166.58,600.69 L170.05,600.74 L173.52,600.77 L176.99,600.80 L180.46,600.82 L183.92,600.84 L187.39,600.85 L190.86,600.86 L194.33,600.86 L197.80,600.86 L201.27,600.85 L204.73,600.83 L208.20,600.81 L211.67,600.78 L215.14,600.75 L218.61,600.71 L222.08,600.67 L225.54,600.62 L229.01,600.56 L232.48,600.50 L235.95,600.43 L239.42,600.36 L242.89,600.28 L246.35,600.20 L249.82,600.11 L253.29,600.02 L256.76,599.91 L260.23,599.81 L263.70,599.70 L267.16,599.58 L270.63,599.46 L274.10,599.33 L277.57,599.19 L281.04,599.05 L284.51,598.91 L287.97,598.75 L291.44,598.60 L294.91,598.43 L298.38,598.26 L301.85,598.09 L305.32,597.91 L308.78,597.73 L312.25,597.53 L315.72,597.34 L319.19,597.13 L322.66,596.93 L326.13,596.71 L329.59,596.49 L333.06,596.27 L336.53,596.04 L340.00,595.80 L340.00,611.40 L336.53,611.50 L333.06,611.59 L329.59,611.68 L326.13,611.77 L322.66,611.86 L319.19,611.95 L315.72,612.03 L312.25,612.11 L308.78,612.19 L305.32,612.27 L301.85,612.35 L298.38,612.42 L294.91,612.49 L291.44,612.56 L287.97,612.63 L284.51,612.70 L281.04,612.76 L277.57,612.82 L274.10,612.88 L270.63,612.94 L267.16,612.99 L263.70,613.04 L260.23,613.10 L256.76,613.14 L253.29,613.19 L249.82,613.24 L246.35,613.28 L242.89,613.32 L239.42,613.36 L235.95,613.39 L232.48,613.43 L229.01,613.46 L225.54,613.49 L222.08,613.52 L218.61,613.55 L215.14,613.57 L211.67,613.59 L208.20,613.61 L204.73,613.63 L201.27,613.65 L197.80,613.66 L194.33,613.67 L190.86,613.68 L187.39,613.69 L183.92,613.69 L180.46,613.70 L176.99,613.70 L173.52,613.70 L170.05,613.70 L166.58,613.69 L163.11,613.68 L159.65,613.68 L156.18,613.66 L152.71,613.65 L149.24,613.64 L145.77,613.62 L142.30,613.60 L138.84,613.58 L135.37,613.55 L131.90,613.53 L128.43,613.50 L124.96,613.47 L121.49,613.44 L118.03,613.41 L114.56,613.37 L111.09,613.33 L107.62,613.29 L104.15,613.25 L100.68,613.21 L97.22,613.16 L93.75,613.11 L90.28,613.06 L86.81,613.01 L83.34,612.96 L79.87,612.90 L76.41,612.84 L72.94,612.78 L69.47,612.72 L66.00,612.65 Z" fill="rgba(230,110,30,0.400)"/><path d="M66.00,604.85 L69.47,604.99 L72.94,605.12 L76.41,605.24 L79.87,605.37 L83.34,605.49 L86.81,605.60 L90.28,605.71 L93.75,605.82 L97.22,605.93 L100.68,606.03 L104.15,606.12 L107.62,606.21 L111.09,606.30 L114.56,606.39 L118.03,606.47 L121.49,606.55 L124.96,606.62 L128.43,606.69 L131.90,606.75 L135.37,606.81 L138.84,606.87 L142.30,606.93 L145.77,606.98 L149.24,607.02 L152.71,607.06 L156.18,607.10 L159.65,607.14 L163.11,607.17 L166.58,607.19 L170.05,607.22 L173.52,607.23 L176.99,607.25 L180.46,607.26 L183.92,607.27 L187.39,607.27 L190.86,607.27 L194.33,607.27 L197.80,607.26 L201.27,607.25 L204.73,607.23 L208.20,607.21 L211.67,607.19 L215.14,607.16 L218.61,607.13 L222.08,607.09 L225.54,607.05 L229.01,607.01 L232.48,606.97 L235.95,606.91 L239.42,606.86 L242.89,606.80 L246.35,606.74 L249.82,606.67 L253.29,606.60 L256.76,606.53 L260.23,606.45 L263.70,606.37 L267.16,606.29 L270.63,606.20 L274.10,606.10 L277.57,606.01 L281.04,605.91 L284.51,605.80 L287.97,605.69 L291.44,605.58 L294.91,605.46 L298.38,605.34 L301.85,605.22 L305.32,605.09 L308.78,604.96 L312.25,604.82 L315.72,604.68 L319.19,604.54 L322.66,604.39 L326.13,604.24 L329.59,604.09 L333.06,603.93 L336.53,603.77 L340.00,603.60" fill="none" stroke="#c94c02" stroke-width="3.4"/><path d="M66.00,673.30 L69.47,672.00 L72.94,670.71 L76.41,669.44 L79.87,668.19 L83.34,666.95 L86.81,665.73 L90.28,664.52 L93.75,663.32 L97.22,662.15 L100.68,660.98 L104.15,659.84 L107.62,658.71 L111.09,657.59 L114.56,656.49 L118.03,655.40 L121.49,654.33 L124.96,653.28 L128.43,652.24 L131.90,651.22 L135.37,650.21 L138.84,649.22 L142.30,648.24 L145.77,647.28 L149.24,646.33 L152.71,645.40 L156.18,644.48 L159.65,643.58 L163.11,642.70 L166.58,641.83 L170.05,640.97 L173.52,640.14 L176.99,639.31 L180.46,638.50 L183.92,637.71 L187.39,636.93 L190.86,636.17 L194.33,635.43 L197.80,634.70 L201.27,633.98 L204.73,633.28 L208.20,632.60 L211.67,631.93 L215.14,631.27 L218.61,630.63 L222.08,630.01 L225.54,629.40 L229.01,628.81 L232.48,628.24 L235.95,627.67 L239.42,627.13 L242.89,626.60 L246.35,626.08 L249.82,625.58 L253.29,625.10 L256.76,624.63 L260.23,624.18 L263.70,623.74 L267.16,623.32 L270.63,622.91 L274.10,622.52 L277.57,622.14 L281.04,621.78 L284.51,621.43 L287.97,621.10 L291.44,620.79 L294.91,620.49 L298.38,620.21 L301.85,619.94 L305.32,619.68 L308.78,619.45 L312.25,619.22 L315.72,619.02 L319.19,618.82 L322.66,618.65 L326.13,618.49 L329.59,618.34 L333.06,618.21 L336.53,618.10 L340.00,618.00 L340.00,632.40 L336.53,632.46 L333.06,632.53 L329.59,632.63 L326.13,632.73 L322.66,632.86 L319.19,633.00 L315.72,633.16 L312.25,633.33 L308.78,633.52 L305.32,633.73 L301.85,633.95 L298.38,634.19 L294.91,634.45 L291.44,634.72 L287.97,635.01 L284.51,635.32 L281.04,635.64 L277.57,635.98 L274.10,636.33 L270.63,636.70 L267.16,637.09 L263.70,637.49 L260.23,637.92 L256.76,638.35 L253.29,638.81 L249.82,639.28 L246.35,639.76 L242.89,640.27 L239.42,640.78 L235.95,641.32 L232.48,641.87 L229.01,642.44 L225.54,643.03 L222.08,643.63 L218.61,644.24 L215.14,644.88 L211.67,645.53 L208.20,646.20 L204.73,646.88 L201.27,647.58 L197.80,648.30 L194.33,649.03 L190.86,649.78 L187.39,650.54 L183.92,651.33 L180.46,652.13 L176.99,652.94 L173.52,653.77 L170.05,654.62 L166.58,655.48 L163.11,656.37 L159.65,657.26 L156.18,658.18 L152.71,659.11 L149.24,660.05 L145.77,661.02 L142.30,662.00 L138.84,662.99 L135.37,664.00 L131.90,665.03 L128.43,666.08 L124.96,667.14 L121.49,668.22 L118.03,669.31 L114.56,670.42 L111.09,671.55 L107.62,672.69 L104.15,673.85 L100.68,675.03 L97.22,676.22 L93.75,677.43 L90.28,678.66 L86.81,679.90 L83.34,681.16 L79.87,682.43 L76.41,683.73 L72.94,685.03 L69.47,686.36 L66.00,687.70 Z" fill="rgba(99,99,99,0.380)"/><path d="M66.00,680.50 L69.47,679.18 L72.94,677.87 L76.41,676.59 L79.87,675.31 L83.34,674.05 L86.81,672.81 L90.28,671.59 L93.75,670.38 L97.22,669.18 L100.68,668.01 L104.15,666.85 L107.62,665.70 L111.09,664.57 L114.56,663.46 L118.03,662.36 L121.49,661.28 L124.96,660.21 L128.43,659.16 L131.90,658.12 L135.37,657.11 L138.84,656.10 L142.30,655.12 L145.77,654.15 L149.24,653.19 L152.71,652.25 L156.18,651.33 L159.65,650.42 L163.11,649.53 L166.58,648.66 L170.05,647.80 L173.52,646.95 L176.99,646.13 L180.46,645.31 L183.92,644.52 L187.39,643.74 L190.86,642.98 L194.33,642.23 L197.80,641.50 L201.27,640.78 L204.73,640.08 L208.20,639.40 L211.67,638.73 L215.14,638.08 L218.61,637.44 L222.08,636.82 L225.54,636.21 L229.01,635.63 L232.48,635.05 L235.95,634.50 L239.42,633.96 L242.89,633.43 L246.35,632.92 L249.82,632.43 L253.29,631.95 L256.76,631.49 L260.23,631.05 L263.70,630.62 L267.16,630.20 L270.63,629.81 L274.10,629.42 L277.57,629.06 L281.04,628.71 L284.51,628.37 L287.97,628.06 L291.44,627.76 L294.91,627.47 L298.38,627.20 L301.85,626.94 L305.32,626.71 L308.78,626.48 L312.25,626.28 L315.72,626.09 L319.19,625.91 L322.66,625.75 L326.13,625.61 L329.59,625.48 L333.06,625.37 L336.53,625.28 L340.00,625.20" fill="none" stroke="#646464" stroke-width="3.6"/>
<path d="M52.5,440 V725 H353.5" fill="none" stroke="#6b6b6b" stroke-width="1.1"/>
<line x1="47.5" y1="712.3" x2="52.5" y2="712.3" stroke="#7a7a7a" stroke-width="1"/><text x="42.9" y="717.1" text-anchor="end" font-size="13.0" >0</text><line x1="47.5" y1="616.4" x2="52.5" y2="616.4" stroke="#7a7a7a" stroke-width="1"/><text x="42.9" y="621.2" text-anchor="end" font-size="13.0" >0.2</text><line x1="47.5" y1="520.9" x2="52.5" y2="520.9" stroke="#7a7a7a" stroke-width="1"/><text x="42.9" y="525.7" text-anchor="end" font-size="13.0" >0.4</text>
<line x1="56.6" y1="725.0" x2="56.6" y2="730.0" stroke="#7a7a7a" stroke-width="1"/><text x="56.6" y="745.0" text-anchor="middle" font-size="13.0" >2.0</text><line x1="110.7" y1="725.0" x2="110.7" y2="730.0" stroke="#7a7a7a" stroke-width="1"/><text x="110.7" y="745.0" text-anchor="middle" font-size="13.0" >2.1</text><line x1="164.8" y1="725.0" x2="164.8" y2="730.0" stroke="#7a7a7a" stroke-width="1"/><text x="164.8" y="745.0" text-anchor="middle" font-size="13.0" >2.2</text><line x1="218.9" y1="725.0" x2="218.9" y2="730.0" stroke="#7a7a7a" stroke-width="1"/><text x="218.9" y="745.0" text-anchor="middle" font-size="13.0" >2.3</text><line x1="273.0" y1="725.0" x2="273.0" y2="730.0" stroke="#7a7a7a" stroke-width="1"/><text x="273.0" y="745.0" text-anchor="middle" font-size="13.0" >2.4</text><line x1="327.1" y1="725.0" x2="327.1" y2="730.0" stroke="#7a7a7a" stroke-width="1"/><text x="327.1" y="745.0" text-anchor="middle" font-size="13.0" >2.5</text>
<text x="203.3" y="766.7" text-anchor="middle" font-size="13" >Fractal dimension</text>
<text transform="translate(13.2,582.7) rotate(-90)" text-anchor="middle" font-size="13.2" >Oyster recruit density per cm<tspan font-size="9.5" dy="-5">2</tspan><tspan dy="5"> (sqrt)</tspan></text>
<text x="51.6" y="431.6" font-size="15.5" font-weight="bold" stroke="#000" stroke-width="0.5" >b</text>
<circle class="p2" cx="394.0" cy="525.6" r="3.9"/>
<circle class="p2" cx="394.0" cy="533.4" r="3.9"/>
<circle class="p2" cx="394.0" cy="538.9" r="3.9"/>
<circle class="p3" cx="394.0" cy="547.7" r="3.9"/>
<circle class="p3" cx="394.0" cy="547.7" r="3.9"/>
<circle class="p3" cx="394.0" cy="547.7" r="3.9"/>
<circle class="p3" cx="394.0" cy="547.7" r="3.9"/>
<circle class="p3" cx="394.0" cy="550.5" r="3.9"/>
<circle class="p3" cx="394.0" cy="550.5" r="3.9"/>
<circle class="p3" cx="394.0" cy="550.5" r="3.9"/>
<circle class="p3" cx="394.0" cy="550.5" r="3.9"/>
<circle class="p3" cx="394.0" cy="553.9" r="3.9"/>
<circle class="p4" cx="394.0" cy="553.9" r="3.9"/>
<circle class="p3" cx="394.0" cy="553.9" r="3.9"/>
<circle class="p4" cx="394.0" cy="553.9" r="3.9"/>
<circle class="p3" cx="394.0" cy="557.3" r="3.9"/>
<circle class="p4" cx="394.0" cy="557.3" r="3.9"/>
<circle class="p3" cx="394.0" cy="557.3" r="3.9"/>
<circle class="p4" cx="394.0" cy="557.3" r="3.9"/>
<circle class="p3" cx="394.0" cy="561.4" r="3.9"/>
<circle class="p3" cx="394.0" cy="561.4" r="3.9"/>
<circle class="p3" cx="394.0" cy="561.4" r="3.9"/>
<circle class="p3" cx="394.0" cy="561.4" r="3.9"/>
<circle class="p3" cx="394.0" cy="565.5" r="3.9"/>
<circle class="p3" cx="394.0" cy="565.5" r="3.9"/>
<circle class="p3" cx="394.0" cy="569.5" r="3.9"/>
<circle class="p3" cx="394.0" cy="569.5" r="3.9"/>
<circle class="p3" cx="394.0" cy="569.5" r="3.9"/>
<circle class="p3" cx="394.0" cy="569.5" r="3.9"/>
<circle class="p3" cx="394.0" cy="573.6" r="3.9"/>
<circle class="p3" cx="394.0" cy="573.6" r="3.9"/>
<circle class="p4" cx="394.0" cy="577.7" r="3.9"/>
<circle class="p4" cx="394.0" cy="577.7" r="3.9"/>
<circle class="p3" cx="394.0" cy="580.5" r="3.9"/>
<circle class="p4" cx="394.0" cy="580.5" r="3.9"/>
<circle class="p3" cx="394.0" cy="580.5" r="3.9"/>
<circle class="p4" cx="394.0" cy="580.5" r="3.9"/>
<circle class="p3" cx="394.0" cy="584.5" r="3.9"/>
<circle class="p3" cx="394.0" cy="584.5" r="3.9"/>
<circle class="p4" cx="394.0" cy="596.8" r="3.9"/>
<circle class="p4" cx="394.0" cy="596.8" r="3.9"/>
<circle class="p3" cx="394.0" cy="599.5" r="3.9"/>
<circle class="p3" cx="394.0" cy="599.5" r="3.9"/>
<circle class="p3" cx="394.0" cy="603.6" r="3.9"/>
<circle class="p3" cx="394.0" cy="603.6" r="3.9"/>
<circle class="p3" cx="394.0" cy="608.2" r="3.9"/>
<circle class="p4" cx="394.0" cy="608.2" r="3.9"/>
<circle class="p3" cx="394.0" cy="608.2" r="3.9"/>
<circle class="p4" cx="394.0" cy="608.2" r="3.9"/>
<circle class="p3" cx="394.0" cy="612.9" r="3.9"/>
<circle class="p4" cx="394.0" cy="612.9" r="3.9"/>
<circle class="p3" cx="394.0" cy="612.9" r="3.9"/>
<circle class="p4" cx="394.0" cy="612.9" r="3.9"/>
<circle class="p3" cx="394.0" cy="617.1" r="3.9"/>
<circle class="p4" cx="394.0" cy="617.1" r="3.9"/>
<circle class="p3" cx="394.0" cy="617.1" r="3.9"/>
<circle class="p4" cx="394.0" cy="617.1" r="3.9"/>
<circle class="p3" cx="394.0" cy="622.9" r="3.9"/>
<circle class="p3" cx="394.0" cy="622.9" r="3.9"/>
<circle class="p3" cx="394.0" cy="622.9" r="3.9"/>
<circle class="p3" cx="394.0" cy="622.9" r="3.9"/>
<circle class="p3" cx="394.0" cy="627.1" r="3.9"/>
<circle class="p3" cx="394.0" cy="627.1" r="3.9"/>
<circle class="p3" cx="394.0" cy="632.9" r="3.9"/>
<circle class="p4" cx="394.0" cy="632.9" r="3.9"/>
<circle class="p3" cx="394.0" cy="632.9" r="3.9"/>
<circle class="p4" cx="394.0" cy="632.9" r="3.9"/>
<circle class="p3" cx="394.0" cy="636.5" r="3.9"/>
<circle class="p4" cx="394.0" cy="636.5" r="3.9"/>
<circle class="p3" cx="394.0" cy="636.5" r="3.9"/>
<circle class="p4" cx="394.0" cy="636.5" r="3.9"/>
<circle class="p3" cx="394.0" cy="640.0" r="3.9"/>
<circle class="p3" cx="394.0" cy="640.0" r="3.9"/>
<circle class="p3" cx="394.0" cy="640.0" r="3.9"/>
<circle class="p3" cx="394.0" cy="640.0" r="3.9"/>
<circle class="p3" cx="394.0" cy="644.3" r="3.9"/>
<circle class="p4" cx="394.0" cy="644.3" r="3.9"/>
<circle class="p3" cx="394.0" cy="644.3" r="3.9"/>
<circle class="p4" cx="394.0" cy="644.3" r="3.9"/>
<circle class="p3" cx="394.0" cy="648.6" r="3.9"/>
<circle class="p3" cx="394.0" cy="648.6" r="3.9"/>
<circle class="p3" cx="394.0" cy="652.2" r="3.9"/>
<circle class="p3" cx="394.0" cy="652.2" r="3.9"/>
<circle class="p3" cx="394.0" cy="655.7" r="3.9"/>
<circle class="p3" cx="394.0" cy="655.7" r="3.9"/>
<circle class="p3" cx="394.0" cy="655.7" r="3.9"/>
<circle class="p3" cx="394.0" cy="655.7" r="3.9"/>
<circle class="p3" cx="394.0" cy="658.6" r="3.9"/>
<circle class="p3" cx="394.0" cy="658.6" r="3.9"/>
<circle class="p3" cx="394.0" cy="662.2" r="3.9"/>
<circle class="p4" cx="394.0" cy="662.2" r="3.9"/>
<circle class="p3" cx="394.0" cy="662.2" r="3.9"/>
<circle class="p4" cx="394.0" cy="662.2" r="3.9"/>
<circle class="p4" cx="394.0" cy="665.7" r="3.9"/>
<circle class="p4" cx="394.0" cy="665.7" r="3.9"/>
<circle class="p3" cx="394.0" cy="671.4" r="3.9"/>
<circle class="p3" cx="394.0" cy="671.4" r="3.9"/>
<circle class="p3" cx="394.0" cy="671.4" r="3.9"/>
<circle class="p3" cx="394.0" cy="671.4" r="3.9"/>
<circle class="p3" cx="394.0" cy="677.1" r="3.9"/>
<circle class="p4" cx="394.0" cy="677.1" r="3.9"/>
<circle class="p3" cx="394.0" cy="677.1" r="3.9"/>
<circle class="p4" cx="394.0" cy="677.1" r="3.9"/>
<circle class="p3" cx="394.0" cy="681.4" r="3.9"/>
<circle class="p4" cx="394.0" cy="681.4" r="3.9"/>
<circle class="p3" cx="394.0" cy="681.4" r="3.9"/>
<circle class="p4" cx="394.0" cy="681.4" r="3.9"/>
<circle class="p4" cx="394.0" cy="685.7" r="3.9"/>
<circle class="p4" cx="394.0" cy="685.7" r="3.9"/>
<circle class="p5" cx="394.0" cy="688.6" r="3.9"/>
<circle class="p4" cx="394.0" cy="712.3" r="3.9"/>
<circle class="p4" cx="394.0" cy="712.3" r="3.9"/>
<circle class="p4" cx="394.0" cy="712.3" r="3.9"/>
<circle class="p4" cx="394.0" cy="712.3" r="3.9"/>
<circle class="p4" cx="394.0" cy="712.3" r="3.9"/>
<circle class="p4" cx="394.0" cy="712.3" r="3.9"/>
<circle class="p4" cx="394.0" cy="712.3" r="3.9"/>
<circle class="p4" cx="394.0" cy="712.3" r="3.9"/>
<circle class="p4" cx="394.0" cy="712.3" r="3.9"/>
<circle class="p4" cx="394.0" cy="712.3" r="3.9"/>
<circle class="p2" cx="451.0" cy="452.7" r="3.9"/>
<circle class="p2" cx="451.0" cy="528.6" r="3.9"/>
<circle class="p2" cx="451.0" cy="532.0" r="3.9"/>
<circle class="p3" cx="451.0" cy="540.9" r="3.9"/>
<circle class="p3" cx="451.0" cy="540.9" r="3.9"/>
<circle class="p3" cx="451.0" cy="540.9" r="3.9"/>
<circle class="p3" cx="451.0" cy="540.9" r="3.9"/>
<circle class="p3" cx="451.0" cy="544.3" r="3.9"/>
<circle class="p3" cx="451.0" cy="544.3" r="3.9"/>
<circle class="p3" cx="451.0" cy="547.7" r="3.9"/>
<circle class="p3" cx="451.0" cy="547.7" r="3.9"/>
<circle class="p3" cx="451.0" cy="547.7" r="3.9"/>
<circle class="p3" cx="451.0" cy="547.7" r="3.9"/>
<circle class="p3" cx="451.0" cy="553.2" r="3.9"/>
<circle class="p3" cx="451.0" cy="553.2" r="3.9"/>
<circle class="p3" cx="451.0" cy="553.2" r="3.9"/>
<circle class="p3" cx="451.0" cy="553.2" r="3.9"/>
<circle class="p3" cx="451.0" cy="555.9" r="3.9"/>
<circle class="p3" cx="451.0" cy="555.9" r="3.9"/>
<circle class="p3" cx="451.0" cy="561.4" r="3.9"/>
<circle class="p3" cx="451.0" cy="561.4" r="3.9"/>
<circle class="p3" cx="451.0" cy="561.4" r="3.9"/>
<circle class="p3" cx="451.0" cy="561.4" r="3.9"/>
<circle class="p3" cx="451.0" cy="565.5" r="3.9"/>
<circle class="p3" cx="451.0" cy="565.5" r="3.9"/>
<circle class="p3" cx="451.0" cy="568.9" r="3.9"/>
<circle class="p4" cx="451.0" cy="568.9" r="3.9"/>
<circle class="p3" cx="451.0" cy="568.9" r="3.9"/>
<circle class="p4" cx="451.0" cy="568.9" r="3.9"/>
<circle class="p4" cx="451.0" cy="572.3" r="3.9"/>
<circle class="p4" cx="451.0" cy="572.3" r="3.9"/>
<circle class="p3" cx="451.0" cy="576.4" r="3.9"/>
<circle class="p4" cx="451.0" cy="576.4" r="3.9"/>
<circle class="p3" cx="451.0" cy="576.4" r="3.9"/>
<circle class="p4" cx="451.0" cy="576.4" r="3.9"/>
<circle class="p3" cx="451.0" cy="581.1" r="3.9"/>
<circle class="p4" cx="451.0" cy="581.1" r="3.9"/>
<circle class="p3" cx="451.0" cy="581.1" r="3.9"/>
<circle class="p4" cx="451.0" cy="581.1" r="3.9"/>
<circle class="p3" cx="451.0" cy="585.9" r="3.9"/>
<circle class="p4" cx="451.0" cy="585.9" r="3.9"/>
<circle class="p3" cx="451.0" cy="585.9" r="3.9"/>
<circle class="p4" cx="451.0" cy="585.9" r="3.9"/>
<circle class="p5" cx="451.0" cy="592.7" r="3.9"/>
<circle class="p3" cx="451.0" cy="598.2" r="3.9"/>
<circle class="p4" cx="451.0" cy="598.2" r="3.9"/>
<circle class="p3" cx="451.0" cy="598.2" r="3.9"/>
<circle class="p4" cx="451.0" cy="598.2" r="3.9"/>
<circle class="p3" cx="451.0" cy="602.3" r="3.9"/>
<circle class="p4" cx="451.0" cy="602.3" r="3.9"/>
<circle class="p3" cx="451.0" cy="602.3" r="3.9"/>
<circle class="p4" cx="451.0" cy="602.3" r="3.9"/>
<circle class="p3" cx="451.0" cy="606.4" r="3.9"/>
<circle class="p4" cx="451.0" cy="606.4" r="3.9"/>
<circle class="p3" cx="451.0" cy="606.4" r="3.9"/>
<circle class="p4" cx="451.0" cy="606.4" r="3.9"/>
<circle class="p3" cx="451.0" cy="609.6" r="3.9"/>
<circle class="p4" cx="451.0" cy="609.6" r="3.9"/>
<circle class="p3" cx="451.0" cy="609.6" r="3.9"/>
<circle class="p4" cx="451.0" cy="609.6" r="3.9"/>
<circle class="p3" cx="451.0" cy="612.9" r="3.9"/>
<circle class="p3" cx="451.0" cy="612.9" r="3.9"/>
<circle class="p3" cx="451.0" cy="612.9" r="3.9"/>
<circle class="p3" cx="451.0" cy="612.9" r="3.9"/>
<circle class="p3" cx="451.0" cy="617.3" r="3.9"/>
<circle class="p3" cx="451.0" cy="617.3" r="3.9"/>
<circle class="p3" cx="451.0" cy="621.4" r="3.9"/>
<circle class="p3" cx="451.0" cy="621.4" r="3.9"/>
<circle class="p3" cx="451.0" cy="621.4" r="3.9"/>
<circle class="p3" cx="451.0" cy="621.4" r="3.9"/>
<circle class="p3" cx="451.0" cy="626.4" r="3.9"/>
<circle class="p3" cx="451.0" cy="626.4" r="3.9"/>
<circle class="p3" cx="451.0" cy="631.4" r="3.9"/>
<circle class="p3" cx="451.0" cy="631.4" r="3.9"/>
<circle class="p3" cx="451.0" cy="631.4" r="3.9"/>
<circle class="p3" cx="451.0" cy="631.4" r="3.9"/>
<circle class="p3" cx="451.0" cy="635.0" r="3.9"/>
<circle class="p4" cx="451.0" cy="635.0" r="3.9"/>
<circle class="p3" cx="451.0" cy="635.0" r="3.9"/>
<circle class="p4" cx="451.0" cy="635.0" r="3.9"/>
<circle class="p4" cx="451.0" cy="638.6" r="3.9"/>
<circle class="p4" cx="451.0" cy="638.6" r="3.9"/>
<circle class="p4" cx="451.0" cy="644.3" r="3.9"/>
<circle class="p4" cx="451.0" cy="644.3" r="3.9"/>
<circle class="p3" cx="451.0" cy="648.6" r="3.9"/>
<circle class="p4" cx="451.0" cy="648.6" r="3.9"/>
<circle class="p3" cx="451.0" cy="648.6" r="3.9"/>
<circle class="p4" cx="451.0" cy="648.6" r="3.9"/>
<circle class="p3" cx="451.0" cy="652.9" r="3.9"/>
<circle class="p3" cx="451.0" cy="652.9" r="3.9"/>
<circle class="p3" cx="451.0" cy="652.9" r="3.9"/>
<circle class="p3" cx="451.0" cy="652.9" r="3.9"/>
<circle class="p3" cx="451.0" cy="656.5" r="3.9"/>
<circle class="p3" cx="451.0" cy="656.5" r="3.9"/>
<circle class="p3" cx="451.0" cy="660.0" r="3.9"/>
<circle class="p3" cx="451.0" cy="660.0" r="3.9"/>
<circle class="p3" cx="451.0" cy="660.0" r="3.9"/>
<circle class="p3" cx="451.0" cy="660.0" r="3.9"/>
<circle class="p3" cx="451.0" cy="665.0" r="3.9"/>
<circle class="p4" cx="451.0" cy="665.0" r="3.9"/>
<circle class="p3" cx="451.0" cy="665.0" r="3.9"/>
<circle class="p4" cx="451.0" cy="665.0" r="3.9"/>
<circle class="p4" cx="451.0" cy="670.0" r="3.9"/>
<circle class="p4" cx="451.0" cy="670.0" r="3.9"/>
<circle class="p4" cx="451.0" cy="670.0" r="3.9"/>
<circle class="p4" cx="451.0" cy="670.0" r="3.9"/>
<circle class="p3" cx="451.0" cy="675.7" r="3.9"/>
<circle class="p3" cx="451.0" cy="675.7" r="3.9"/>
<circle class="p3" cx="451.0" cy="675.7" r="3.9"/>
<circle class="p3" cx="451.0" cy="675.7" r="3.9"/>
<circle class="p3" cx="451.0" cy="680.0" r="3.9"/>
<circle class="p3" cx="451.0" cy="680.0" r="3.9"/>
<circle class="p3" cx="451.0" cy="685.7" r="3.9"/>
<circle class="p4" cx="451.0" cy="685.7" r="3.9"/>
<circle class="p3" cx="451.0" cy="685.7" r="3.9"/>
<circle class="p4" cx="451.0" cy="685.7" r="3.9"/>
<circle class="p5" cx="451.0" cy="690.0" r="3.9"/>
<circle class="p4" cx="451.0" cy="712.3" r="3.9"/>
<circle class="p4" cx="451.0" cy="712.3" r="3.9"/>
<circle class="p4" cx="451.0" cy="712.3" r="3.9"/>
<circle class="p4" cx="451.0" cy="712.3" r="3.9"/>
<circle class="p4" cx="451.0" cy="712.3" r="3.9"/>
<circle class="p4" cx="451.0" cy="712.3" r="3.9"/>
<circle class="p4" cx="451.0" cy="712.3" r="3.9"/>
<circle class="p4" cx="451.0" cy="712.3" r="3.9"/>
<circle class="p4" cx="451.0" cy="712.3" r="3.9"/>
<circle class="p4" cx="451.0" cy="712.3" r="3.9"/>
<circle class="p2" cx="531.0" cy="507.0" r="3.9"/>
<circle class="p5" cx="531.0" cy="522.5" r="3.9"/>
<circle class="p3" cx="531.0" cy="528.6" r="3.9"/>
<circle class="p4" cx="531.0" cy="528.6" r="3.9"/>
<circle class="p3" cx="531.0" cy="528.6" r="3.9"/>
<circle class="p4" cx="531.0" cy="528.6" r="3.9"/>
<circle class="p3" cx="531.0" cy="532.0" r="3.9"/>
<circle class="p4" cx="531.0" cy="532.0" r="3.9"/>
<circle class="p3" cx="531.0" cy="532.0" r="3.9"/>
<circle class="p4" cx="531.0" cy="532.0" r="3.9"/>
<circle class="p3" cx="531.0" cy="535.5" r="3.9"/>
<circle class="p3" cx="531.0" cy="535.5" r="3.9"/>
<circle class="p3" cx="531.0" cy="539.5" r="3.9"/>
<circle class="p3" cx="531.0" cy="539.5" r="3.9"/>
<circle class="p3" cx="531.0" cy="539.5" r="3.9"/>
<circle class="p3" cx="531.0" cy="539.5" r="3.9"/>
<circle class="p3" cx="531.0" cy="543.6" r="3.9"/>
<circle class="p3" cx="531.0" cy="543.6" r="3.9"/>
<circle class="p3" cx="531.0" cy="543.6" r="3.9"/>
<circle class="p3" cx="531.0" cy="543.6" r="3.9"/>
<circle class="p3" cx="531.0" cy="547.0" r="3.9"/>
<circle class="p3" cx="531.0" cy="547.0" r="3.9"/>
<circle class="p3" cx="531.0" cy="550.8" r="3.9"/>
<circle class="p4" cx="531.0" cy="550.8" r="3.9"/>
<circle class="p3" cx="531.0" cy="550.8" r="3.9"/>
<circle class="p4" cx="531.0" cy="550.8" r="3.9"/>
<circle class="p3" cx="531.0" cy="554.5" r="3.9"/>
<circle class="p4" cx="531.0" cy="554.5" r="3.9"/>
<circle class="p3" cx="531.0" cy="554.5" r="3.9"/>
<circle class="p4" cx="531.0" cy="554.5" r="3.9"/>
<circle class="p3" cx="531.0" cy="558.6" r="3.9"/>
<circle class="p4" cx="531.0" cy="558.6" r="3.9"/>
<circle class="p3" cx="531.0" cy="558.6" r="3.9"/>
<circle class="p4" cx="531.0" cy="558.6" r="3.9"/>
<circle class="p3" cx="531.0" cy="562.0" r="3.9"/>
<circle class="p4" cx="531.0" cy="562.0" r="3.9"/>
<circle class="p3" cx="531.0" cy="562.0" r="3.9"/>
<circle class="p4" cx="531.0" cy="562.0" r="3.9"/>
<circle class="p3" cx="531.0" cy="565.5" r="3.9"/>
<circle class="p3" cx="531.0" cy="565.5" r="3.9"/>
<circle class="p3" cx="531.0" cy="565.5" r="3.9"/>
<circle class="p3" cx="531.0" cy="565.5" r="3.9"/>
<circle class="p3" cx="531.0" cy="569.5" r="3.9"/>
<circle class="p3" cx="531.0" cy="569.5" r="3.9"/>
<circle class="p3" cx="531.0" cy="573.6" r="3.9"/>
<circle class="p3" cx="531.0" cy="573.6" r="3.9"/>
<circle class="p3" cx="531.0" cy="573.6" r="3.9"/>
<circle class="p3" cx="531.0" cy="573.6" r="3.9"/>
<circle class="p3" cx="531.0" cy="579.1" r="3.9"/>
<circle class="p3" cx="531.0" cy="579.1" r="3.9"/>
<circle class="p3" cx="531.0" cy="583.2" r="3.9"/>
<circle class="p3" cx="531.0" cy="583.2" r="3.9"/>
<circle class="p3" cx="531.0" cy="583.2" r="3.9"/>
<circle class="p3" cx="531.0" cy="583.2" r="3.9"/>
<circle class="p3" cx="531.0" cy="586.6" r="3.9"/>
<circle class="p4" cx="531.0" cy="586.6" r="3.9"/>
<circle class="p3" cx="531.0" cy="586.6" r="3.9"/>
<circle class="p4" cx="531.0" cy="586.6" r="3.9"/>
<circle class="p4" cx="531.0" cy="590.0" r="3.9"/>
<circle class="p4" cx="531.0" cy="590.0" r="3.9"/>
<circle class="p3" cx="531.0" cy="594.1" r="3.9"/>
<circle class="p4" cx="531.0" cy="594.1" r="3.9"/>
<circle class="p3" cx="531.0" cy="594.1" r="3.9"/>
<circle class="p4" cx="531.0" cy="594.1" r="3.9"/>
<circle class="p3" cx="531.0" cy="598.2" r="3.9"/>
<circle class="p4" cx="531.0" cy="598.2" r="3.9"/>
<circle class="p3" cx="531.0" cy="598.2" r="3.9"/>
<circle class="p4" cx="531.0" cy="598.2" r="3.9"/>
<circle class="p3" cx="531.0" cy="603.6" r="3.9"/>
<circle class="p4" cx="531.0" cy="603.6" r="3.9"/>
<circle class="p3" cx="531.0" cy="603.6" r="3.9"/>
<circle class="p4" cx="531.0" cy="603.6" r="3.9"/>
<circle class="p3" cx="531.0" cy="609.1" r="3.9"/>
<circle class="p4" cx="531.0" cy="609.1" r="3.9"/>
<circle class="p3" cx="531.0" cy="609.1" r="3.9"/>
<circle class="p4" cx="531.0" cy="609.1" r="3.9"/>
<circle class="p3" cx="531.0" cy="614.5" r="3.9"/>
<circle class="p4" cx="531.0" cy="614.5" r="3.9"/>
<circle class="p3" cx="531.0" cy="614.5" r="3.9"/>
<circle class="p4" cx="531.0" cy="614.5" r="3.9"/>
<circle class="p3" cx="531.0" cy="618.6" r="3.9"/>
<circle class="p4" cx="531.0" cy="618.6" r="3.9"/>
<circle class="p3" cx="531.0" cy="618.6" r="3.9"/>
<circle class="p4" cx="531.0" cy="618.6" r="3.9"/>
<circle class="p3" cx="531.0" cy="622.9" r="3.9"/>
<circle class="p4" cx="531.0" cy="622.9" r="3.9"/>
<circle class="p3" cx="531.0" cy="622.9" r="3.9"/>
<circle class="p4" cx="531.0" cy="622.9" r="3.9"/>
<circle class="p3" cx="531.0" cy="628.6" r="3.9"/>
<circle class="p4" cx="531.0" cy="628.6" r="3.9"/>
<circle class="p3" cx="531.0" cy="628.6" r="3.9"/>
<circle class="p4" cx="531.0" cy="628.6" r="3.9"/>
<circle class="p3" cx="531.0" cy="632.9" r="3.9"/>
<circle class="p3" cx="531.0" cy="632.9" r="3.9"/>
<circle class="p3" cx="531.0" cy="632.9" r="3.9"/>
<circle class="p3" cx="531.0" cy="632.9" r="3.9"/>
<circle class="p3" cx="531.0" cy="638.6" r="3.9"/>
<circle class="p3" cx="531.0" cy="638.6" r="3.9"/>
<circle class="p3" cx="531.0" cy="638.6" r="3.9"/>
<circle class="p3" cx="531.0" cy="638.6" r="3.9"/>
<circle class="p3" cx="531.0" cy="644.3" r="3.9"/>
<circle class="p4" cx="531.0" cy="644.3" r="3.9"/>
<circle class="p3" cx="531.0" cy="644.3" r="3.9"/>
<circle class="p4" cx="531.0" cy="644.3" r="3.9"/>
<circle class="p4" cx="531.0" cy="650.0" r="3.9"/>
<circle class="p4" cx="531.0" cy="650.0" r="3.9"/>
<circle class="p4" cx="531.0" cy="655.7" r="3.9"/>
<circle class="p4" cx="531.0" cy="655.7" r="3.9"/>
<circle class="p4" cx="531.0" cy="660.7" r="3.9"/>
<circle class="p4" cx="531.0" cy="660.7" r="3.9"/>
<circle class="p4" cx="531.0" cy="665.7" r="3.9"/>
<circle class="p4" cx="531.0" cy="665.7" r="3.9"/>
<circle class="p4" cx="531.0" cy="665.7" r="3.9"/>
<circle class="p4" cx="531.0" cy="665.7" r="3.9"/>
<circle class="p3" cx="531.0" cy="668.9" r="3.9"/>
<circle class="p4" cx="531.0" cy="668.9" r="3.9"/>
<circle class="p3" cx="531.0" cy="668.9" r="3.9"/>
<circle class="p4" cx="531.0" cy="668.9" r="3.9"/>
<circle class="p3" cx="531.0" cy="672.1" r="3.9"/>
<circle class="p3" cx="531.0" cy="672.1" r="3.9"/>
<circle class="p3" cx="531.0" cy="672.1" r="3.9"/>
<circle class="p3" cx="531.0" cy="672.1" r="3.9"/>
<circle class="p4" cx="531.0" cy="683.6" r="3.9"/>
<circle class="p4" cx="531.0" cy="683.6" r="3.9"/>
<circle class="p4" cx="531.0" cy="689.3" r="3.9"/>
<circle class="p4" cx="531.0" cy="689.3" r="3.9"/>
<circle class="p4" cx="531.0" cy="712.3" r="3.9"/>
<circle class="p4" cx="531.0" cy="712.3" r="3.9"/>
<circle class="p4" cx="531.0" cy="712.3" r="3.9"/>
<circle class="p4" cx="531.0" cy="712.3" r="3.9"/>
<circle class="p4" cx="531.0" cy="712.3" r="3.9"/>
<circle class="p4" cx="531.0" cy="712.3" r="3.9"/>
<circle class="p4" cx="531.0" cy="712.3" r="3.9"/>
<circle class="p4" cx="531.0" cy="712.3" r="3.9"/>
<circle class="p4" cx="531.0" cy="712.3" r="3.9"/>
<circle class="p4" cx="531.0" cy="712.3" r="3.9"/>
<circle class="p3" cx="668.3" cy="533.4" r="3.9"/>
<circle class="p3" cx="668.3" cy="533.4" r="3.9"/>
<circle class="p3" cx="668.3" cy="533.4" r="3.9"/>
<circle class="p3" cx="668.3" cy="533.4" r="3.9"/>
<circle class="p2" cx="668.3" cy="541.6" r="3.9"/>
<circle class="p2" cx="668.3" cy="546.4" r="3.9"/>
<circle class="p3" cx="668.3" cy="550.5" r="3.9"/>
<circle class="p3" cx="668.3" cy="550.5" r="3.9"/>
<circle class="p3" cx="668.3" cy="550.5" r="3.9"/>
<circle class="p3" cx="668.3" cy="550.5" r="3.9"/>
<circle class="p3" cx="668.3" cy="554.5" r="3.9"/>
<circle class="p3" cx="668.3" cy="554.5" r="3.9"/>
<circle class="p3" cx="668.3" cy="558.0" r="3.9"/>
<circle class="p3" cx="668.3" cy="558.0" r="3.9"/>
<circle class="p3" cx="668.3" cy="561.4" r="3.9"/>
<circle class="p3" cx="668.3" cy="561.4" r="3.9"/>
<circle class="p3" cx="668.3" cy="561.4" r="3.9"/>
<circle class="p3" cx="668.3" cy="561.4" r="3.9"/>
<circle class="p3" cx="668.3" cy="566.8" r="3.9"/>
<circle class="p3" cx="668.3" cy="566.8" r="3.9"/>
<circle class="p3" cx="668.3" cy="566.8" r="3.9"/>
<circle class="p3" cx="668.3" cy="566.8" r="3.9"/>
<circle class="p3" cx="668.3" cy="572.3" r="3.9"/>
<circle class="p4" cx="668.3" cy="572.3" r="3.9"/>
<circle class="p3" cx="668.3" cy="572.3" r="3.9"/>
<circle class="p4" cx="668.3" cy="572.3" r="3.9"/>
<circle class="p3" cx="668.3" cy="576.4" r="3.9"/>
<circle class="p4" cx="668.3" cy="576.4" r="3.9"/>
<circle class="p3" cx="668.3" cy="576.4" r="3.9"/>
<circle class="p4" cx="668.3" cy="576.4" r="3.9"/>
<circle class="p3" cx="668.3" cy="580.5" r="3.9"/>
<circle class="p3" cx="668.3" cy="580.5" r="3.9"/>
<circle class="p3" cx="668.3" cy="580.5" r="3.9"/>
<circle class="p3" cx="668.3" cy="580.5" r="3.9"/>
<circle class="p3" cx="668.3" cy="584.5" r="3.9"/>
<circle class="p3" cx="668.3" cy="584.5" r="3.9"/>
<circle class="p3" cx="668.3" cy="590.0" r="3.9"/>
<circle class="p4" cx="668.3" cy="590.0" r="3.9"/>
<circle class="p3" cx="668.3" cy="590.0" r="3.9"/>
<circle class="p4" cx="668.3" cy="590.0" r="3.9"/>
<circle class="p3" cx="668.3" cy="594.1" r="3.9"/>
<circle class="p4" cx="668.3" cy="594.1" r="3.9"/>
<circle class="p3" cx="668.3" cy="594.1" r="3.9"/>
<circle class="p4" cx="668.3" cy="594.1" r="3.9"/>
<circle class="p4" cx="668.3" cy="598.2" r="3.9"/>
<circle class="p4" cx="668.3" cy="598.2" r="3.9"/>
<circle class="p3" cx="668.3" cy="602.3" r="3.9"/>
<circle class="p4" cx="668.3" cy="602.3" r="3.9"/>
<circle class="p3" cx="668.3" cy="602.3" r="3.9"/>
<circle class="p4" cx="668.3" cy="602.3" r="3.9"/>
<circle class="p3" cx="668.3" cy="606.4" r="3.9"/>
<circle class="p4" cx="668.3" cy="606.4" r="3.9"/>
<circle class="p3" cx="668.3" cy="606.4" r="3.9"/>
<circle class="p4" cx="668.3" cy="606.4" r="3.9"/>
<circle class="p3" cx="668.3" cy="609.8" r="3.9"/>
<circle class="p4" cx="668.3" cy="609.8" r="3.9"/>
<circle class="p3" cx="668.3" cy="609.8" r="3.9"/>
<circle class="p4" cx="668.3" cy="609.8" r="3.9"/>
<circle class="p3" cx="668.3" cy="613.2" r="3.9"/>
<circle class="p4" cx="668.3" cy="613.2" r="3.9"/>
<circle class="p3" cx="668.3" cy="613.2" r="3.9"/>
<circle class="p4" cx="668.3" cy="613.2" r="3.9"/>
<circle class="p3" cx="668.3" cy="617.3" r="3.9"/>
<circle class="p4" cx="668.3" cy="617.3" r="3.9"/>
<circle class="p3" cx="668.3" cy="617.3" r="3.9"/>
<circle class="p4" cx="668.3" cy="617.3" r="3.9"/>
<circle class="p3" cx="668.3" cy="618.6" r="3.9"/>
<circle class="p3" cx="668.3" cy="618.6" r="3.9"/>
<circle class="p3" cx="668.3" cy="624.3" r="3.9"/>
<circle class="p3" cx="668.3" cy="624.3" r="3.9"/>
<circle class="p3" cx="668.3" cy="624.3" r="3.9"/>
<circle class="p3" cx="668.3" cy="624.3" r="3.9"/>
<circle class="p3" cx="668.3" cy="630.0" r="3.9"/>
<circle class="p3" cx="668.3" cy="630.0" r="3.9"/>
<circle class="p3" cx="668.3" cy="630.0" r="3.9"/>
<circle class="p3" cx="668.3" cy="630.0" r="3.9"/>
<circle class="p3" cx="668.3" cy="635.7" r="3.9"/>
<circle class="p3" cx="668.3" cy="635.7" r="3.9"/>
<circle class="p3" cx="668.3" cy="635.7" r="3.9"/>
<circle class="p3" cx="668.3" cy="635.7" r="3.9"/>
<circle class="p3" cx="668.3" cy="641.4" r="3.9"/>
<circle class="p4" cx="668.3" cy="641.4" r="3.9"/>
<circle class="p3" cx="668.3" cy="641.4" r="3.9"/>
<circle class="p4" cx="668.3" cy="641.4" r="3.9"/>
<circle class="p3" cx="668.3" cy="645.7" r="3.9"/>
<circle class="p4" cx="668.3" cy="645.7" r="3.9"/>
<circle class="p3" cx="668.3" cy="645.7" r="3.9"/>
<circle class="p4" cx="668.3" cy="645.7" r="3.9"/>
<circle class="p4" cx="668.3" cy="651.4" r="3.9"/>
<circle class="p4" cx="668.3" cy="651.4" r="3.9"/>
<circle class="p4" cx="668.3" cy="657.1" r="3.9"/>
<circle class="p4" cx="668.3" cy="657.1" r="3.9"/>
<circle class="p4" cx="668.3" cy="661.4" r="3.9"/>
<circle class="p4" cx="668.3" cy="661.4" r="3.9"/>
<circle class="p4" cx="668.3" cy="665.7" r="3.9"/>
<circle class="p4" cx="668.3" cy="665.7" r="3.9"/>
<circle class="p4" cx="668.3" cy="665.7" r="3.9"/>
<circle class="p4" cx="668.3" cy="665.7" r="3.9"/>
<circle class="p5" cx="668.3" cy="672.9" r="3.9"/>
<circle class="p5" cx="668.3" cy="678.6" r="3.9"/>
<circle class="p5" cx="668.3" cy="689.3" r="3.9"/>
<circle class="p4" cx="668.3" cy="712.3" r="3.9"/>
<circle class="p4" cx="668.3" cy="712.3" r="3.9"/>
<circle class="p4" cx="668.3" cy="712.3" r="3.9"/>
<circle class="p4" cx="668.3" cy="712.3" r="3.9"/>
<path d="M394.00,603.24 L397.47,602.98 L400.94,602.71 L404.42,602.45 L407.89,602.19 L411.36,601.94 L414.83,601.68 L418.31,601.43 L421.78,601.19 L425.25,600.94 L428.72,600.70 L432.19,600.47 L435.67,600.23 L439.14,600.00 L442.61,599.77 L446.08,599.54 L449.55,599.32 L453.03,599.10 L456.50,598.88 L459.97,598.66 L463.44,598.45 L466.92,598.24 L470.39,598.04 L473.86,597.83 L477.33,597.63 L480.80,597.44 L484.28,597.24 L487.75,597.05 L491.22,596.86 L494.69,596.67 L498.16,596.49 L501.64,596.31 L505.11,596.13 L508.58,595.96 L512.05,595.79 L515.53,595.62 L519.00,595.45 L522.47,595.29 L525.94,595.13 L529.41,594.97 L532.89,594.82 L536.36,594.67 L539.83,594.52 L543.30,594.37 L546.77,594.23 L550.25,594.09 L553.72,593.95 L557.19,593.82 L560.66,593.69 L564.14,593.56 L567.61,593.44 L571.08,593.31 L574.55,593.19 L578.02,593.08 L581.50,592.96 L584.97,592.85 L588.44,592.75 L591.91,592.64 L595.38,592.54 L598.86,592.44 L602.33,592.34 L605.80,592.25 L609.27,592.16 L612.75,592.07 L616.22,591.99 L619.69,591.90 L623.16,591.83 L626.63,591.75 L630.11,591.68 L633.58,591.61 L637.05,591.54 L640.52,591.47 L643.99,591.41 L647.47,591.35 L650.94,591.30 L654.41,591.25 L657.88,591.20 L661.36,591.15 L664.83,591.10 L668.30,591.06 L668.30,607.46 L664.83,607.32 L661.36,607.19 L657.88,607.07 L654.41,606.95 L650.94,606.84 L647.47,606.74 L643.99,606.64 L640.52,606.56 L637.05,606.48 L633.58,606.40 L630.11,606.34 L626.63,606.28 L623.16,606.23 L619.69,606.18 L616.22,606.14 L612.75,606.11 L609.27,606.09 L605.80,606.08 L602.33,606.07 L598.86,606.07 L595.38,606.07 L591.91,606.09 L588.44,606.11 L584.97,606.14 L581.50,606.17 L578.02,606.21 L574.55,606.26 L571.08,606.32 L567.61,606.39 L564.14,606.46 L560.66,606.54 L557.19,606.62 L553.72,606.72 L550.25,606.82 L546.77,606.92 L543.30,607.04 L539.83,607.16 L536.36,607.29 L532.89,607.43 L529.41,607.57 L525.94,607.72 L522.47,607.88 L519.00,608.05 L515.53,608.22 L512.05,608.40 L508.58,608.59 L505.11,608.78 L501.64,608.99 L498.16,609.19 L494.69,609.41 L491.22,609.63 L487.75,609.87 L484.28,610.10 L480.80,610.35 L477.33,610.60 L473.86,610.86 L470.39,611.13 L466.92,611.40 L463.44,611.69 L459.97,611.97 L456.50,612.27 L453.03,612.57 L449.55,612.89 L446.08,613.20 L442.61,613.53 L439.14,613.86 L435.67,614.20 L432.19,614.55 L428.72,614.90 L425.25,615.26 L421.78,615.63 L418.31,616.01 L414.83,616.39 L411.36,616.78 L407.89,617.18 L404.42,617.58 L400.94,618.00 L397.47,618.42 L394.00,618.84 Z" fill="rgba(230,110,30,0.400)"/><path d="M394.00,611.04 L397.47,610.70 L400.94,610.35 L404.42,610.02 L407.89,609.69 L411.36,609.36 L414.83,609.04 L418.31,608.72 L421.78,608.41 L425.25,608.10 L428.72,607.80 L432.19,607.51 L435.67,607.22 L439.14,606.93 L442.61,606.65 L446.08,606.37 L449.55,606.10 L453.03,605.84 L456.50,605.58 L459.97,605.32 L463.44,605.07 L466.92,604.82 L470.39,604.58 L473.86,604.35 L477.33,604.12 L480.80,603.89 L484.28,603.67 L487.75,603.46 L491.22,603.25 L494.69,603.04 L498.16,602.84 L501.64,602.65 L505.11,602.46 L508.58,602.27 L512.05,602.09 L515.53,601.92 L519.00,601.75 L522.47,601.59 L525.94,601.43 L529.41,601.27 L532.89,601.12 L536.36,600.98 L539.83,600.84 L543.30,600.71 L546.77,600.58 L550.25,600.45 L553.72,600.34 L557.19,600.22 L560.66,600.11 L564.14,600.01 L567.61,599.91 L571.08,599.82 L574.55,599.73 L578.02,599.65 L581.50,599.57 L584.97,599.50 L588.44,599.43 L591.91,599.36 L595.38,599.31 L598.86,599.25 L602.33,599.21 L605.80,599.16 L609.27,599.13 L612.75,599.09 L616.22,599.07 L619.69,599.04 L623.16,599.03 L626.63,599.01 L630.11,599.01 L633.58,599.00 L637.05,599.01 L640.52,599.02 L643.99,599.03 L647.47,599.05 L650.94,599.07 L654.41,599.10 L657.88,599.13 L661.36,599.17 L664.83,599.21 L668.30,599.26" fill="none" stroke="#c94c02" stroke-width="3.4"/><path d="M394.00,654.81 L397.47,653.89 L400.94,652.98 L404.42,652.08 L407.89,651.20 L411.36,650.33 L414.83,649.47 L418.31,648.63 L421.78,647.80 L425.25,646.98 L428.72,646.18 L432.19,645.39 L435.67,644.62 L439.14,643.85 L442.61,643.11 L446.08,642.37 L449.55,641.65 L453.03,640.94 L456.50,640.25 L459.97,639.57 L463.44,638.90 L466.92,638.25 L470.39,637.61 L473.86,636.98 L477.33,636.36 L480.80,635.76 L484.28,635.18 L487.75,634.60 L491.22,634.05 L494.69,633.50 L498.16,632.97 L501.64,632.45 L505.11,631.94 L508.58,631.45 L512.05,630.97 L515.53,630.51 L519.00,630.05 L522.47,629.62 L525.94,629.19 L529.41,628.78 L532.89,628.38 L536.36,628.00 L539.83,627.63 L543.30,627.27 L546.77,626.93 L550.25,626.59 L553.72,626.28 L557.19,625.97 L560.66,625.68 L564.14,625.41 L567.61,625.14 L571.08,624.90 L574.55,624.66 L578.02,624.44 L581.50,624.23 L584.97,624.03 L588.44,623.85 L591.91,623.68 L595.38,623.53 L598.86,623.38 L602.33,623.26 L605.80,623.14 L609.27,623.04 L612.75,622.95 L616.22,622.88 L619.69,622.82 L623.16,622.77 L626.63,622.74 L630.11,622.72 L633.58,622.71 L637.05,622.72 L640.52,622.74 L643.99,622.77 L647.47,622.82 L650.94,622.88 L654.41,622.95 L657.88,623.04 L661.36,623.14 L664.83,623.25 L668.30,623.38 L668.30,639.78 L664.83,639.51 L661.36,639.26 L657.88,639.02 L654.41,638.80 L650.94,638.60 L647.47,638.41 L643.99,638.24 L640.52,638.09 L637.05,637.95 L633.58,637.83 L630.11,637.72 L626.63,637.64 L623.16,637.57 L619.69,637.51 L616.22,637.48 L612.75,637.46 L609.27,637.45 L605.80,637.47 L602.33,637.50 L598.86,637.54 L595.38,637.61 L591.91,637.69 L588.44,637.78 L584.97,637.90 L581.50,638.03 L578.02,638.17 L574.55,638.34 L571.08,638.52 L567.61,638.71 L564.14,638.93 L560.66,639.16 L557.19,639.40 L553.72,639.67 L550.25,639.95 L546.77,640.24 L543.30,640.56 L539.83,640.89 L536.36,641.23 L532.89,641.60 L529.41,641.98 L525.94,642.37 L522.47,642.79 L519.00,643.22 L515.53,643.66 L512.05,644.13 L508.58,644.61 L505.11,645.10 L501.64,645.62 L498.16,646.15 L494.69,646.70 L491.22,647.26 L487.75,647.84 L484.28,648.44 L480.80,649.05 L477.33,649.68 L473.86,650.33 L470.39,650.99 L466.92,651.67 L463.44,652.37 L459.97,653.08 L456.50,653.81 L453.03,654.56 L449.55,655.32 L446.08,656.10 L442.61,656.90 L439.14,657.71 L435.67,658.54 L432.19,659.39 L428.72,660.25 L425.25,661.13 L421.78,662.03 L418.31,662.95 L414.83,663.88 L411.36,664.82 L407.89,665.79 L404.42,666.77 L400.94,667.76 L397.47,668.78 L394.00,669.81 Z" fill="rgba(99,99,99,0.380)"/><path d="M394.00,662.31 L397.47,661.33 L400.94,660.37 L404.42,659.42 L407.89,658.49 L411.36,657.57 L414.83,656.67 L418.31,655.79 L421.78,654.92 L425.25,654.06 L428.72,653.22 L432.19,652.39 L435.67,651.58 L439.14,650.78 L442.61,650.00 L446.08,649.24 L449.55,648.49 L453.03,647.75 L456.50,647.03 L459.97,646.32 L463.44,645.63 L466.92,644.96 L470.39,644.30 L473.86,643.65 L477.33,643.02 L480.80,642.41 L484.28,641.81 L487.75,641.22 L491.22,640.65 L494.69,640.10 L498.16,639.56 L501.64,639.03 L505.11,638.52 L508.58,638.03 L512.05,637.55 L515.53,637.08 L519.00,636.64 L522.47,636.20 L525.94,635.78 L529.41,635.38 L532.89,634.99 L536.36,634.62 L539.83,634.26 L543.30,633.91 L546.77,633.58 L550.25,633.27 L553.72,632.97 L557.19,632.69 L560.66,632.42 L564.14,632.17 L567.61,631.93 L571.08,631.71 L574.55,631.50 L578.02,631.30 L581.50,631.13 L584.97,630.96 L588.44,630.82 L591.91,630.68 L595.38,630.57 L598.86,630.46 L602.33,630.38 L605.80,630.30 L609.27,630.25 L612.75,630.20 L616.22,630.18 L619.69,630.17 L623.16,630.17 L626.63,630.19 L630.11,630.22 L633.58,630.27 L637.05,630.33 L640.52,630.41 L643.99,630.50 L647.47,630.61 L650.94,630.74 L654.41,630.88 L657.88,631.03 L661.36,631.20 L664.83,631.38 L668.30,631.58" fill="none" stroke="#646464" stroke-width="3.6"/>
<path d="M380.5,440 V725 H681" fill="none" stroke="#6b6b6b" stroke-width="1.1"/>
<line x1="404.6" y1="725.0" x2="404.6" y2="730.0" stroke="#7a7a7a" stroke-width="1"/><text x="404.6" y="745.0" text-anchor="middle" font-size="13.0" >0.5</text><line x1="450.2" y1="725.0" x2="450.2" y2="730.0" stroke="#7a7a7a" stroke-width="1"/><text x="450.2" y="745.0" text-anchor="middle" font-size="13.0" >0.6</text><line x1="495.7" y1="725.0" x2="495.7" y2="730.0" stroke="#7a7a7a" stroke-width="1"/><text x="495.7" y="745.0" text-anchor="middle" font-size="13.0" >0.7</text><line x1="541.2" y1="725.0" x2="541.2" y2="730.0" stroke="#7a7a7a" stroke-width="1"/><text x="541.2" y="745.0" text-anchor="middle" font-size="13.0" >0.8</text><line x1="586.8" y1="725.0" x2="586.8" y2="730.0" stroke="#7a7a7a" stroke-width="1"/><text x="586.8" y="745.0" text-anchor="middle" font-size="13.0" >0.9</text><line x1="632.4" y1="725.0" x2="632.4" y2="730.0" stroke="#7a7a7a" stroke-width="1"/><text x="632.4" y="745.0" text-anchor="middle" font-size="13.0" >1.0</text><line x1="677.9" y1="725.0" x2="677.9" y2="730.0" stroke="#7a7a7a" stroke-width="1"/><text x="677.9" y="745.0" text-anchor="middle" font-size="13.0" >1.1</text>
<text x="530" y="766.7" text-anchor="middle" font-size="13" >log<tspan font-size="9.5" dy="3">10</tspan><tspan dy="-3"> Height range (cm)</tspan></text>
<text x="379.5" y="431.6" font-size="15.5" font-weight="bold" stroke="#000" stroke-width="0.5" >c</text>
</svg>
</body></html>
